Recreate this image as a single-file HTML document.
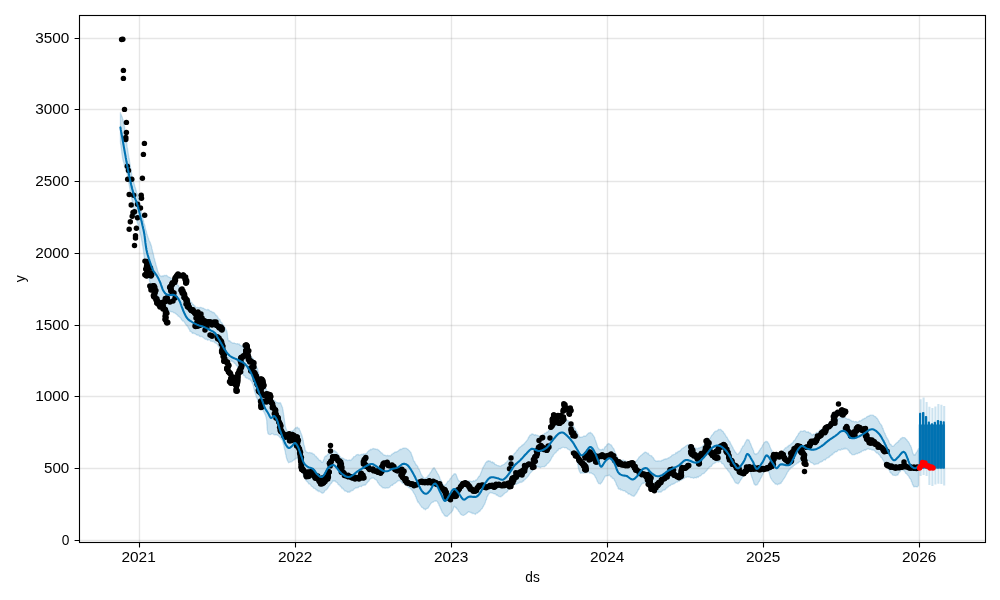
<!DOCTYPE html>
<html><head><meta charset="utf-8"><title>forecast</title>
<style>html,body{margin:0;padding:0;background:#fff;width:1000px;height:600px;overflow:hidden;font-family:"Liberation Sans",sans-serif}svg{display:block;will-change:transform}</style>
</head><body>
<svg width="1000" height="600" viewBox="0 0 1000 600">
<rect width="1000" height="600" fill="#fff"/>
<polygon points="120.4,112.7 120.6,113.9 120.8,113.9 121.1,114.7 121.4,115.1 121.7,116.0 122.1,117.1 122.4,117.8 122.7,119.3 123.0,119.4 123.2,120.9 123.4,121.7 123.5,121.8 123.7,122.4 123.8,123.0 124.0,123.7 124.1,125.3 124.3,125.9 124.5,126.1 124.6,127.7 124.8,128.9 125.0,129.8 125.1,130.1 125.2,131.2 125.3,131.8 125.4,133.2 125.5,133.2 125.6,134.6 125.7,135.3 125.8,135.7 125.9,136.0 126.0,137.6 126.1,137.6 126.2,139.0 126.3,139.3 126.4,140.2 126.5,141.4 126.7,142.0 126.8,143.8 126.9,144.2 127.0,145.5 127.1,146.4 127.2,147.0 127.3,147.7 127.5,148.3 127.6,149.5 127.7,150.2 127.8,150.4 127.9,151.7 128.1,152.4 128.2,153.3 128.4,154.4 128.5,155.3 128.6,156.0 128.8,157.2 128.9,158.1 129.1,158.1 129.2,159.0 129.4,159.8 129.5,160.8 129.6,162.6 129.8,162.6 129.9,163.6 130.1,164.4 130.2,165.3 130.3,165.8 130.4,167.1 130.6,167.3 130.7,168.6 130.8,169.2 130.9,168.8 131.0,170.1 131.2,170.8 131.4,172.8 131.5,172.6 131.6,173.6 131.7,174.8 131.8,175.2 132.0,175.9 132.1,176.2 132.3,177.1 132.5,177.6 132.7,178.6 132.9,179.1 133.1,180.4 133.3,180.5 133.5,181.3 133.8,182.2 134.0,183.5 134.3,184.4 134.5,184.6 134.8,186.6 135.1,187.2 135.3,187.5 135.5,188.1 135.8,189.6 136.0,190.6 136.2,190.4 136.5,191.9 136.7,192.7 137.0,193.6 137.2,193.4 137.4,194.0 137.6,194.8 137.9,195.6 138.1,197.1 138.3,197.9 138.5,198.2 138.8,198.6 139.0,199.8 139.2,200.4 139.3,201.5 139.4,202.3 139.6,203.1 139.7,203.4 139.9,204.1 140.0,204.9 140.1,205.6 140.3,206.4 140.4,207.5 140.6,208.3 140.7,208.7 140.9,209.8 141.0,210.1 141.2,210.9 141.4,212.2 141.6,213.0 141.8,213.5 142.0,214.5 142.2,215.6 142.4,217.0 142.5,217.6 142.7,217.5 142.9,218.6 143.1,219.5 143.4,220.3 143.6,220.9 143.8,222.4 144.0,223.5 144.3,223.9 144.5,224.5 144.7,225.3 145.0,226.0 145.2,227.8 145.4,228.0 145.6,229.4 145.9,230.3 146.1,230.3 146.3,231.2 146.5,232.1 146.7,233.4 146.9,234.0 147.1,234.1 147.3,234.9 147.6,235.9 148.0,237.1 148.3,238.3 148.6,238.5 148.9,239.9 149.2,240.8 149.5,241.1 149.7,242.2 150.0,242.8 150.3,242.5 150.5,244.2 150.8,243.9 151.0,245.4 151.3,245.4 151.5,246.4 151.7,247.4 151.9,248.7 152.1,249.4 152.3,249.6 152.5,251.3 152.7,252.1 152.9,252.5 153.1,252.8 153.3,253.9 153.5,254.8 153.7,255.7 153.9,257.2 154.1,257.6 154.3,258.7 154.5,258.6 154.7,259.6 154.9,261.0 155.1,261.4 155.3,262.1 155.5,262.8 155.7,263.6 156.0,264.9 156.2,265.8 156.5,266.5 156.7,267.6 157.0,268.2 157.2,268.7 157.5,270.5 157.8,271.0 158.1,272.0 158.4,272.7 158.7,273.4 159.0,273.8 159.3,274.8 159.7,275.3 160.0,275.5 160.7,275.9 161.4,276.6 162.2,275.8 163.0,276.5 163.9,275.5 164.8,275.4 165.7,275.6 166.3,275.2 167.0,275.6 167.7,276.7 168.4,276.8 169.2,277.1 169.9,277.3 170.7,278.2 171.4,278.4 172.1,279.3 172.8,279.8 173.5,280.5 174.1,280.8 174.7,281.3 175.2,281.7 175.8,282.5 176.4,283.2 176.9,283.9 177.4,284.9 178.0,285.7 178.5,285.4 179.0,287.0 179.5,287.5 180.0,288.1 180.5,289.1 181.0,288.7 181.5,289.8 181.9,290.3 182.3,291.5 182.8,291.2 183.2,292.2 183.7,292.4 184.2,293.8 184.8,294.2 185.5,295.3 185.9,295.3 186.4,296.5 186.8,296.1 187.3,297.0 187.9,298.3 188.4,299.2 188.9,299.7 189.5,299.9 190.1,300.3 190.6,301.8 191.2,302.5 191.8,302.4 192.3,304.1 192.9,304.3 193.4,304.3 193.9,305.4 194.5,305.7 194.9,305.8 195.4,307.2 196.3,307.8 197.1,307.2 197.9,307.7 198.6,307.6 199.3,308.0 200.0,307.3 200.8,307.5 201.6,307.7 202.5,308.0 203.2,308.1 203.9,308.5 204.7,309.2 205.4,309.4 206.2,309.7 207.0,309.9 207.9,309.4 208.7,309.8 209.5,310.4 210.2,311.0 211.0,311.3 211.7,311.4 212.4,312.6 213.1,312.3 213.7,312.4 214.4,313.0 215.0,313.8 215.6,315.0 216.1,315.7 216.7,315.4 217.2,316.3 217.8,317.0 218.3,318.3 218.9,319.2 219.5,319.2 220.0,319.6 220.4,321.3 220.9,322.0 221.4,322.4 221.9,322.8 222.4,323.8 222.9,324.6 223.3,325.0 223.8,325.5 224.3,326.5 224.7,327.4 225.2,327.8 225.6,328.9 225.9,329.0 226.3,330.7 226.6,330.5 226.9,331.4 227.2,333.1 227.3,334.0 227.4,334.9 227.5,335.7 227.5,336.6 227.6,337.4 227.7,337.9 227.9,338.1 228.1,339.7 228.5,340.5 229.0,341.1 229.5,340.6 230.1,341.0 230.8,342.2 231.5,342.2 232.3,342.9 233.2,343.3 234.0,342.9 234.9,343.3 235.8,343.6 236.7,343.8 237.5,343.6 238.3,344.2 239.1,343.8 239.8,345.1 240.5,345.3 241.3,345.9 242.0,346.0 242.6,346.2 243.3,347.1 243.9,347.9 244.4,348.4 245.0,348.5 245.5,349.0 246.0,350.1 246.6,350.5 247.1,351.1 247.6,351.7 248.2,352.5 248.7,353.5 249.2,354.3 249.7,354.6 250.2,354.4 250.7,356.1 251.2,356.4 251.6,357.2 252.1,357.7 252.5,358.1 253.0,358.8 253.4,359.2 253.8,360.6 254.1,360.6 254.5,362.1 254.9,363.2 255.3,363.7 255.6,364.4 256.0,365.5 256.3,366.5 256.6,367.1 256.9,368.1 257.2,368.2 257.5,368.4 257.8,370.0 258.0,370.8 258.2,371.8 258.4,372.2 258.6,372.6 258.7,372.9 258.9,374.6 259.1,375.2 259.4,376.4 259.6,376.7 260.0,377.9 260.3,378.5 260.6,379.4 260.9,379.5 261.3,380.7 261.6,380.8 262.0,381.1 262.4,382.2 262.8,383.0 263.2,384.5 263.6,384.6 264.0,385.2 264.4,386.4 264.8,386.4 265.2,387.4 265.6,388.2 266.0,388.5 266.4,389.9 266.8,390.4 267.3,391.7 267.7,391.9 268.1,393.4 268.5,393.3 268.9,394.4 269.3,394.8 269.7,395.2 270.1,396.2 270.5,397.6 270.9,397.4 271.3,398.2 271.7,398.7 272.4,399.2 273.1,400.1 273.8,400.0 274.4,400.7 275.1,400.9 275.8,401.9 276.5,402.3 277.2,402.6 277.9,402.6 278.6,403.1 279.3,403.1 280.0,402.5 280.7,403.2 281.4,404.9 282.0,406.4 282.2,407.1 282.3,407.4 282.5,407.3 282.6,408.4 282.8,409.2 282.9,410.0 283.1,410.2 283.2,412.1 283.3,412.4 283.5,413.0 283.6,414.8 283.7,415.0 283.9,415.6 284.0,417.3 284.1,417.8 284.2,418.7 284.4,419.7 284.5,421.0 284.6,421.6 284.8,422.9 284.9,424.1 285.0,425.0 285.2,425.7 285.3,426.5 285.4,426.4 285.6,427.8 285.7,427.5 285.9,428.6 286.0,428.5 286.7,430.2 287.4,432.2 288.2,431.7 288.9,432.4 289.8,432.0 290.7,431.2 291.3,432.0 292.0,430.7 292.7,431.1 293.5,430.4 294.2,429.3 295.0,428.6 295.7,427.6 296.4,428.0 297.1,427.0 297.7,427.6 298.2,428.4 298.7,428.5 299.1,428.3 299.5,429.7 299.9,430.4 300.2,430.8 300.6,432.2 300.9,432.9 301.3,433.8 301.6,434.9 302.0,435.7 302.2,436.4 302.4,437.8 302.6,437.9 302.8,439.2 303.0,439.6 303.2,440.3 303.3,440.9 303.5,443.0 303.7,443.7 303.9,444.9 304.1,445.3 304.3,445.6 304.5,446.6 304.7,447.3 304.9,448.8 305.1,449.5 305.3,450.6 305.5,450.4 305.8,450.9 306.0,451.4 306.7,452.2 307.5,452.3 308.2,452.9 309.1,452.6 310.0,452.4 310.9,453.1 312.0,452.8 312.5,453.8 313.1,453.9 313.7,453.9 314.3,454.4 315.0,455.7 315.7,456.7 316.4,456.4 317.1,457.9 317.8,458.0 318.4,459.2 319.1,460.0 319.7,460.5 320.3,460.4 320.9,460.7 321.4,462.0 321.8,462.1 322.6,462.1 323.1,461.3 323.5,460.0 323.8,459.5 324.1,459.2 324.5,457.2 325.0,456.8 325.6,455.9 326.3,456.3 327.0,455.1 327.8,454.2 328.6,453.9 329.3,453.2 330.0,453.0 330.7,452.8 331.6,452.3 332.5,451.0 333.3,451.0 334.1,450.3 335.0,450.9 335.5,451.7 336.0,451.5 336.5,452.7 337.0,452.7 337.5,453.5 338.1,454.8 338.7,454.5 339.3,455.9 339.9,456.5 340.6,457.3 341.3,458.0 342.0,458.1 342.7,458.0 343.5,458.5 344.3,459.2 345.1,459.4 345.9,460.0 346.7,459.7 347.5,460.6 348.3,460.4 349.0,460.0 349.7,459.9 350.5,460.5 351.1,459.9 351.8,459.4 352.5,458.2 353.1,458.2 353.8,456.6 354.5,456.7 355.2,456.4 356.0,455.2 356.7,454.7 357.5,454.6 358.3,454.4 359.1,455.2 359.9,454.9 360.7,454.7 361.5,454.2 362.3,454.8 363.1,454.0 363.9,453.8 364.7,454.1 365.4,453.8 366.1,453.6 366.9,453.1 367.6,451.7 368.3,451.3 369.0,450.5 369.7,450.4 370.4,449.3 371.1,449.8 371.8,449.2 372.4,449.0 373.0,448.4 374.0,448.8 374.9,448.8 375.7,449.1 376.6,449.5 377.3,449.2 378.1,449.9 378.8,450.0 379.6,451.3 380.3,451.6 381.0,452.9 381.7,452.7 382.3,453.4 383.0,454.4 383.9,455.0 384.8,455.1 385.7,455.6 386.5,455.8 387.3,455.2 388.2,455.9 388.8,455.4 390.0,455.8 390.5,455.9 391.1,455.0 391.8,454.2 392.5,454.2 393.2,453.1 394.0,453.1 394.8,452.1 395.5,452.0 396.3,452.1 397.0,451.6 397.8,451.3 398.6,450.4 399.4,450.0 400.2,449.1 401.0,449.6 401.7,449.0 402.5,448.6 403.3,448.1 404.0,448.5 404.8,448.0 405.6,448.2 406.4,448.3 407.2,449.0 407.9,449.1 408.7,450.4 409.4,450.7 410.0,451.7 410.4,451.9 410.7,452.0 411.1,452.9 411.4,454.3 411.7,454.8 412.0,455.6 412.2,456.5 412.5,456.6 412.8,457.6 413.1,458.7 413.4,460.0 413.7,460.9 414.0,461.1 414.4,461.5 414.8,462.0 415.2,463.3 415.6,463.7 416.0,465.0 416.5,464.8 416.9,465.4 417.3,465.9 417.8,466.6 418.3,468.4 418.7,469.1 419.0,469.0 419.4,469.6 419.8,471.1 420.2,471.6 420.6,472.9 421.1,474.2 421.5,474.8 421.9,475.1 422.3,476.2 422.8,476.5 423.2,477.6 423.6,477.4 424.0,478.4 424.7,478.4 425.5,478.5 426.2,477.4 426.9,477.5 427.7,476.4 428.4,475.2 429.1,474.9 429.7,473.8 430.2,472.9 430.8,472.0 431.2,471.8 431.7,470.5 432.2,469.5 432.6,469.5 433.1,468.1 433.5,468.5 434.0,467.7 434.4,467.9 434.9,468.9 435.3,469.3 435.7,470.0 436.1,470.9 436.5,471.3 437.0,472.6 437.5,473.2 438.0,474.1 438.3,474.4 438.7,475.2 439.0,476.2 439.4,476.7 439.8,478.1 440.2,479.3 440.6,480.0 441.0,480.3 441.4,481.0 441.8,482.2 442.2,483.0 442.6,484.2 443.0,484.4 443.4,484.8 443.8,485.1 444.4,485.2 445.1,485.1 445.7,484.5 446.4,483.8 447.0,482.7 447.6,481.6 448.2,481.1 448.9,480.9 449.5,480.2 450.1,478.8 450.8,478.3 451.4,477.4 452.0,476.4 452.7,475.3 453.3,475.3 453.9,473.9 454.4,473.8 455.0,473.7 455.5,473.9 455.9,474.3 456.3,474.9 456.6,476.2 457.0,476.8 457.4,478.3 457.8,479.1 458.2,480.0 458.7,480.5 459.2,481.1 459.9,481.1 460.8,481.4 461.7,481.7 462.6,481.1 463.5,481.6 464.5,481.3 465.4,481.6 466.3,481.1 467.2,481.1 468.1,481.4 469.0,480.9 469.9,481.1 470.8,481.2 471.7,481.6 472.6,481.5 473.4,480.6 474.2,481.3 474.9,481.0 475.7,480.0 476.4,480.1 477.1,479.1 477.7,478.2 478.4,477.1 479.0,476.2 479.4,476.3 479.7,475.8 480.1,475.0 480.4,474.4 480.7,473.2 481.1,472.7 481.4,471.7 481.7,470.9 482.0,470.0 482.3,469.3 482.7,468.4 483.0,467.1 483.3,467.2 483.8,466.4 484.2,465.2 484.7,465.1 485.1,463.7 485.6,462.7 486.1,462.5 486.6,461.8 487.1,461.1 487.6,461.7 488.3,460.6 489.1,461.3 489.9,460.8 490.7,461.6 491.5,462.5 492.4,461.8 493.2,463.1 493.9,462.5 494.7,464.1 495.4,464.6 496.2,464.6 496.9,465.3 497.7,465.6 498.4,465.6 499.0,466.0 499.9,466.2 500.7,466.5 501.5,465.3 502.2,465.3 503.0,464.8 503.6,464.5 504.2,464.3 504.9,463.6 505.5,462.7 506.1,462.9 506.8,461.9 507.4,460.9 508.0,460.7 508.6,460.6 509.1,459.1 509.7,459.3 510.3,458.5 510.9,457.6 511.7,456.6 512.2,456.2 512.6,455.8 513.1,455.2 513.7,454.7 514.2,453.6 514.8,453.3 515.4,452.5 515.9,452.1 516.5,451.4 517.1,450.0 517.6,450.3 518.2,449.1 518.7,448.3 519.4,447.5 520.0,447.5 520.6,446.6 521.3,446.4 521.9,445.3 522.5,445.6 523.1,444.3 523.8,444.5 524.4,443.4 525.0,442.7 525.5,442.3 526.0,441.5 526.6,440.8 527.1,440.0 527.6,439.7 528.1,438.6 528.6,437.0 529.1,437.4 529.7,435.5 530.2,435.0 530.7,435.4 531.3,434.4 532.1,433.9 532.8,434.0 533.6,434.6 534.4,435.3 535.2,434.6 536.0,435.1 536.8,435.2 537.6,435.4 538.4,435.8 539.2,435.9 540.0,436.3 540.8,435.7 541.6,435.6 542.3,435.0 543.1,435.0 543.9,434.3 544.7,433.3 545.5,433.0 546.1,432.8 546.8,431.9 547.4,432.3 548.1,431.3 548.7,430.4 549.4,430.2 550.0,430.0 550.7,428.8 551.3,428.7 552.0,427.6 552.6,427.3 553.3,426.7 554.0,426.6 554.7,426.4 555.4,425.4 556.2,425.5 556.9,425.0 557.6,424.7 558.3,424.6 559.0,423.5 559.7,423.9 560.5,422.8 561.3,422.5 562.1,421.6 562.9,421.1 563.7,421.4 564.5,420.4 565.2,420.1 566.0,420.0 566.7,420.6 567.5,420.3 568.2,420.7 569.0,421.8 569.7,421.9 570.4,422.2 571.1,423.5 571.8,424.6 572.4,424.8 572.9,425.2 573.4,426.0 573.8,426.9 574.3,427.8 574.7,428.5 575.1,428.7 575.5,430.1 575.9,430.0 576.3,430.7 576.7,431.8 577.2,432.3 577.6,433.7 578.1,434.2 578.5,435.9 578.9,436.0 579.4,437.0 580.0,437.5 580.7,437.1 581.5,437.4 582.3,436.9 583.2,436.5 584.1,435.9 584.9,436.1 585.7,436.1 586.5,435.3 587.2,434.3 587.9,433.8 588.6,433.0 589.3,432.7 590.0,433.0 590.6,432.3 591.2,433.2 591.8,433.7 592.4,433.9 593.0,435.3 593.6,435.7 594.2,436.9 594.5,437.3 594.8,438.3 595.0,438.9 595.3,440.0 595.6,440.5 595.9,441.8 596.2,442.4 596.4,442.8 596.7,444.1 597.0,444.7 597.3,445.6 597.6,447.1 597.8,447.2 598.1,448.1 598.4,447.9 599.2,449.5 600.1,449.5 600.9,449.8 601.8,449.6 602.7,449.1 603.3,449.8 603.9,449.3 604.5,447.8 605.2,446.6 605.8,446.6 606.5,445.7 607.1,444.3 607.7,444.6 608.3,443.5 609.1,443.6 609.8,444.4 610.5,444.8 611.1,444.8 611.8,445.9 612.6,447.4 612.9,447.7 613.3,448.2 613.6,448.5 614.0,449.1 614.3,450.1 614.7,451.3 615.0,452.3 615.4,453.0 615.8,454.1 616.2,454.9 616.6,455.8 617.0,456.3 617.4,457.5 617.8,457.7 618.2,458.7 618.9,459.5 619.7,459.8 620.4,460.1 621.2,460.3 622.0,460.4 622.8,460.2 623.6,460.1 624.4,461.0 625.3,460.7 626.1,461.4 627.0,461.6 627.8,461.9 628.7,462.0 629.6,462.0 630.5,462.2 631.4,462.9 632.3,463.1 633.1,462.4 633.8,462.3 634.5,462.2 635.1,461.7 635.7,461.4 636.3,461.0 636.8,460.3 637.4,459.7 637.9,458.9 638.4,458.5 638.9,457.3 639.5,456.7 640.2,456.3 640.9,455.3 641.6,455.2 642.4,454.1 643.1,453.7 643.8,453.1 644.5,452.6 645.2,452.0 646.0,452.3 646.8,452.8 647.6,453.7 648.3,453.2 649.1,454.7 649.9,455.4 650.7,455.7 651.3,455.7 651.9,456.0 652.6,457.7 653.2,457.5 653.8,458.5 654.4,460.0 655.0,460.3 655.7,461.0 656.3,461.4 657.1,460.9 657.9,461.3 658.7,460.8 659.6,460.9 660.4,460.9 661.2,461.0 662.0,460.1 662.8,460.4 663.6,459.5 664.4,459.3 665.3,458.8 666.1,459.1 666.9,458.7 667.7,458.5 668.4,457.7 669.1,457.9 669.8,457.2 670.5,456.6 671.2,456.5 671.9,455.2 672.6,454.9 673.3,454.8 674.0,454.4 674.7,454.4 675.4,453.6 676.1,452.4 676.9,453.1 677.6,452.1 678.3,451.3 679.0,451.5 679.7,450.8 680.4,450.6 681.1,449.6 681.9,448.7 682.6,448.4 683.3,447.9 684.0,447.3 684.7,447.1 685.5,446.1 686.3,445.8 687.1,445.2 687.9,444.7 688.7,445.0 689.5,445.1 690.3,444.7 691.0,445.5 691.7,445.5 692.4,446.1 693.1,446.2 693.9,447.6 694.6,447.4 695.3,448.5 696.0,448.0 696.8,448.9 697.6,448.6 698.4,447.9 699.3,448.4 700.1,447.4 700.9,447.3 701.7,446.9 702.3,446.4 702.8,446.0 703.4,445.2 703.9,444.9 704.5,444.0 705.1,444.2 705.6,443.0 706.2,442.8 706.7,441.8 707.3,441.8 707.8,441.0 708.4,440.2 708.9,439.7 709.5,439.1 710.1,438.4 710.6,437.1 711.1,436.6 711.7,435.3 712.1,435.1 712.6,434.5 713.0,434.3 713.8,432.6 714.4,432.7 714.9,431.3 715.7,431.2 716.3,430.9 717.0,430.9 717.8,430.2 718.6,429.3 719.5,429.7 720.4,429.3 721.3,430.1 721.7,430.2 722.2,431.3 722.6,431.1 723.0,431.4 723.5,432.1 724.0,433.5 724.4,433.4 724.9,434.0 725.4,435.1 725.9,436.0 726.4,437.1 726.9,436.9 727.4,438.0 727.9,439.3 728.4,439.8 728.8,440.7 729.2,441.3 729.6,441.4 730.1,442.2 730.5,443.2 731.0,444.2 731.4,444.9 731.9,445.9 732.3,446.6 732.8,447.4 733.3,448.8 733.7,449.9 734.2,450.0 734.6,450.7 735.0,452.1 735.4,451.9 735.9,452.5 736.3,453.4 736.6,453.5 737.0,454.3 737.6,454.2 738.2,454.0 738.7,453.5 739.3,452.5 739.7,452.6 740.2,451.3 740.7,450.8 741.2,449.0 741.6,448.5 742.1,447.8 742.6,446.6 743.1,445.8 743.6,445.9 744.1,445.0 744.6,444.1 745.1,442.6 745.6,441.9 746.1,441.0 746.6,440.2 747.1,439.4 747.6,439.8 748.2,439.7 748.5,440.3 748.9,439.9 749.3,440.8 749.6,441.3 750.0,442.8 750.4,443.4 750.8,444.1 751.2,445.6 751.5,446.3 751.9,447.1 752.3,448.2 752.7,448.7 753.1,449.7 753.5,450.6 753.9,452.5 754.2,453.1 754.6,453.3 755.0,454.2 755.3,454.0 755.9,454.5 756.5,453.7 757.1,453.7 757.7,453.4 758.2,452.4 758.8,451.8 759.3,450.6 759.9,450.0 760.4,448.7 761.0,448.3 761.5,447.5 762.0,446.9 762.5,445.4 763.0,444.7 763.5,444.3 764.0,442.8 764.5,442.3 765.1,442.3 765.6,441.4 766.1,441.4 766.7,441.5 767.1,442.0 767.4,441.7 767.8,442.2 768.2,443.2 768.6,443.1 769.0,444.4 769.4,445.0 769.8,446.2 770.2,447.3 770.6,448.4 771.0,448.9 771.4,450.1 771.8,450.2 772.2,451.7 772.6,452.8 772.9,453.1 773.3,453.5 773.7,454.0 774.5,454.7 775.4,455.0 776.2,455.3 777.0,456.3 777.8,456.0 778.5,455.3 779.3,455.8 780.0,455.8 780.5,455.2 781.0,454.2 781.5,454.6 781.9,453.0 782.4,452.6 782.8,451.8 783.3,450.7 783.8,450.0 784.4,449.1 785.0,448.4 785.5,447.7 786.1,447.9 786.7,447.5 787.4,446.4 788.0,446.8 788.7,445.6 789.4,445.1 790.1,445.2 790.8,444.3 791.5,443.5 792.1,443.2 792.8,442.6 793.4,441.5 793.9,440.6 794.4,440.7 794.9,440.0 795.4,439.1 795.9,437.8 796.3,437.8 796.8,436.3 797.3,436.3 797.7,435.3 798.2,434.6 798.6,433.3 799.1,433.0 799.6,432.9 800.0,431.7 800.5,431.2 801.4,431.2 802.3,431.5 803.2,431.1 804.1,430.7 805.0,430.7 805.9,431.8 806.8,432.0 807.6,432.0 808.5,431.8 809.2,433.0 810.0,432.7 810.7,433.5 811.4,434.2 812.3,435.3 813.2,434.1 813.8,434.1 814.5,434.5 815.2,434.2 815.9,433.2 816.6,432.4 817.4,432.8 818.1,432.4 818.9,431.7 819.6,430.7 820.3,429.6 821.0,429.8 821.7,429.2 822.4,428.9 823.1,428.3 823.7,427.4 824.3,427.4 824.9,426.3 825.6,425.7 826.2,425.4 826.8,425.1 827.4,424.4 828.1,424.3 828.8,423.0 829.5,423.3 830.3,422.8 831.0,421.8 831.8,420.9 832.6,421.2 833.4,420.8 834.2,420.8 835.0,420.0 835.8,419.8 836.6,419.6 837.3,418.6 838.2,418.9 839.0,418.3 839.9,417.8 840.7,417.6 841.5,417.6 842.4,417.9 843.2,417.6 844.1,417.4 845.0,417.2 845.7,418.2 846.5,418.5 847.2,418.9 848.0,419.3 848.8,418.9 849.6,419.6 850.4,420.3 851.2,420.5 852.0,421.6 852.8,421.2 853.5,421.2 854.2,421.9 855.2,421.6 856.1,421.5 857.0,422.1 857.8,421.9 858.7,421.6 859.5,420.7 860.3,420.9 861.2,420.5 861.9,419.9 862.6,419.4 863.4,418.9 864.1,418.8 864.8,418.1 865.6,417.9 866.3,417.5 867.0,416.6 867.6,416.6 868.3,415.9 869.2,416.1 870.0,415.1 870.8,415.2 871.5,415.2 872.3,415.2 873.1,415.1 874.0,416.0 874.5,416.4 874.9,416.6 875.4,416.6 875.9,417.0 876.5,418.1 877.0,418.1 877.5,418.9 878.0,419.5 878.5,420.9 879.1,421.4 879.6,422.8 880.1,423.5 880.5,423.9 881.0,424.5 881.4,425.2 881.7,425.5 882.1,426.3 882.4,428.0 882.8,428.1 883.1,428.5 883.4,430.5 883.8,430.6 884.1,431.9 884.4,432.3 884.7,433.7 885.1,433.4 885.4,434.7 885.7,435.6 886.0,435.6 886.4,437.4 886.7,437.3 887.2,438.6 887.7,438.8 888.1,439.7 888.6,440.6 889.1,442.3 889.6,443.3 890.0,444.1 890.5,444.3 891.0,444.4 891.5,445.7 891.9,445.8 892.4,446.3 893.1,446.2 893.8,445.9 894.5,444.9 895.2,444.2 895.9,443.4 896.6,443.0 897.3,442.1 898.0,442.2 898.7,440.6 899.4,440.7 900.1,439.2 900.8,438.4 901.5,438.8 902.2,437.4 903.0,437.6 903.7,437.6 904.3,437.6 904.8,437.9 905.4,438.1 906.0,439.3 906.7,439.6 907.3,440.6 907.9,441.7 908.4,441.6 909.0,442.9 909.5,443.6 910.0,445.1 910.4,445.5 910.7,445.8 911.1,447.1 911.4,447.5 911.7,449.1 912.0,449.6 912.3,450.7 912.5,452.1 912.8,452.9 913.1,453.3 913.4,454.4 913.7,454.5 914.0,455.2 914.5,454.5 915.1,455.1 915.6,453.9 916.2,452.7 916.8,451.9 917.3,451.3 917.8,449.8 918.2,450.0 918.5,448.7 918.5,485.6 917.9,486.2 917.0,487.0 916.0,486.7 914.9,486.4 914.0,486.9 913.6,486.6 913.3,485.2 913.0,485.1 912.7,484.9 912.4,484.0 912.0,482.5 911.7,481.7 911.3,481.4 910.9,479.7 910.5,479.1 910.0,478.4 909.6,478.2 909.1,477.1 908.6,476.1 908.0,475.5 907.4,474.8 906.8,474.0 906.2,473.4 905.6,473.3 905.0,471.8 904.5,471.2 903.9,470.4 903.3,470.6 902.8,469.6 902.3,470.0 901.6,470.0 900.9,470.1 900.3,471.7 899.7,471.8 899.1,472.6 898.5,473.4 897.9,475.1 897.3,475.0 896.7,475.1 895.9,475.7 895.0,475.2 894.2,475.4 893.4,475.2 892.5,474.9 891.7,473.4 891.0,473.2 890.5,472.5 890.1,472.5 889.7,470.9 889.2,470.2 888.9,470.0 888.5,469.2 888.0,467.7 887.6,467.1 887.2,466.3 886.7,465.8 886.3,464.6 885.8,464.6 885.4,464.2 884.9,463.5 884.4,462.3 883.9,461.6 883.4,460.3 882.9,460.0 882.5,459.2 882.0,458.2 881.5,457.4 881.0,457.5 880.4,456.5 879.8,455.5 879.2,454.7 878.6,454.4 878.0,453.4 877.4,453.0 876.7,453.1 876.1,452.4 875.4,451.7 874.7,450.8 873.9,450.2 873.1,450.0 872.3,450.1 871.5,449.6 870.7,449.2 869.9,449.4 869.1,449.2 868.3,448.5 867.5,449.1 866.7,449.2 866.0,449.9 865.2,450.3 864.5,449.8 863.7,450.7 862.9,450.8 862.1,450.9 861.2,452.0 860.5,451.9 859.7,452.9 858.9,452.7 858.1,453.2 857.3,453.8 856.5,453.4 855.7,454.1 854.9,454.4 854.2,454.8 853.4,454.6 852.7,454.6 852.0,454.8 851.4,453.7 850.8,453.5 850.2,452.3 849.6,452.6 849.0,450.7 848.4,450.6 847.8,449.6 847.1,449.1 846.4,448.8 845.7,448.2 845.0,449.2 844.2,448.3 843.4,449.2 842.6,449.5 841.7,449.0 840.9,450.0 840.0,450.3 839.1,449.7 838.3,450.0 837.5,451.1 836.7,451.7 836.0,451.9 835.3,451.5 834.5,452.9 833.9,452.6 833.2,453.6 832.6,454.7 831.9,454.3 831.3,455.3 830.7,455.8 830.1,455.7 829.4,457.2 828.8,457.0 828.1,457.9 827.4,458.1 826.7,458.2 825.9,459.2 825.2,460.1 824.5,459.5 823.8,460.0 823.1,460.5 822.4,461.4 821.7,461.3 820.9,462.2 820.2,462.0 819.4,462.5 818.7,463.4 817.9,463.8 817.1,463.8 816.4,464.1 815.5,464.2 814.7,464.6 814.0,464.5 813.2,463.5 812.5,463.2 811.7,462.7 810.9,462.7 810.1,461.6 809.4,461.2 808.6,460.5 807.8,460.6 807.0,460.3 806.2,460.8 805.4,460.0 804.7,459.8 803.9,460.4 803.1,460.1 802.3,460.7 801.6,460.6 800.8,461.7 800.0,461.4 799.2,461.7 798.5,462.8 797.7,462.6 797.0,463.6 796.4,464.0 795.8,464.3 795.1,464.5 794.5,465.4 793.8,465.3 793.2,466.5 792.5,466.3 791.9,467.7 791.2,467.6 790.5,468.1 789.9,469.5 789.2,469.4 788.8,470.5 788.3,471.6 787.8,471.5 787.4,472.2 786.9,473.7 786.4,474.4 786.0,475.3 785.5,476.3 785.0,477.2 784.5,477.9 784.1,478.5 783.6,479.2 783.1,479.8 782.7,480.6 782.2,481.4 781.8,481.7 781.3,482.5 780.9,483.5 780.4,483.4 780.0,483.1 779.2,484.1 778.3,484.0 777.5,484.8 776.7,484.3 775.9,483.8 775.2,484.0 774.4,482.6 773.7,482.2 773.0,481.4 772.3,480.6 771.9,480.0 771.5,479.3 771.2,478.5 770.8,478.2 770.5,477.7 770.2,476.6 769.8,475.5 769.5,474.0 769.2,473.1 768.9,472.0 768.6,471.5 768.3,470.1 768.0,470.3 767.7,468.7 767.4,468.9 767.0,468.8 766.7,468.1 766.3,467.7 765.9,468.3 765.5,469.1 765.1,469.5 764.7,470.2 764.3,471.3 763.9,472.4 763.4,472.9 763.0,474.3 762.6,475.0 762.2,475.3 761.8,476.5 761.4,477.2 761.0,477.9 760.5,478.5 760.0,479.9 759.5,481.3 759.0,481.4 758.5,482.3 758.0,483.6 757.5,484.3 757.0,484.9 756.4,484.9 755.9,485.3 755.3,485.0 755.0,484.4 754.7,484.6 754.4,484.3 754.1,483.9 753.8,483.1 753.5,481.4 753.2,480.9 752.9,480.1 752.6,479.4 752.2,477.7 751.9,477.5 751.6,476.5 751.3,475.2 750.9,474.2 750.6,473.2 750.3,472.1 750.0,472.0 749.7,470.6 749.4,470.5 749.1,469.3 748.8,469.3 748.5,468.5 748.2,468.6 747.7,468.3 747.2,468.7 746.7,468.4 746.2,469.5 745.8,470.0 745.3,471.2 744.9,472.3 744.4,473.2 744.0,473.7 743.5,474.8 743.1,476.6 742.6,476.6 742.1,477.8 741.6,478.9 741.2,479.2 740.7,479.9 740.2,480.9 739.7,481.5 739.3,482.7 738.7,482.7 738.2,483.9 737.6,483.5 737.0,483.5 736.6,483.3 736.2,482.8 735.8,482.4 735.4,482.8 734.9,482.0 734.5,481.3 734.0,480.1 733.5,479.3 733.0,478.2 732.6,477.8 732.1,477.3 731.6,475.8 731.1,475.8 730.6,474.3 730.2,473.9 729.7,472.4 729.3,472.1 728.8,471.9 728.4,470.6 727.8,470.7 727.2,468.9 726.6,468.8 726.1,468.2 725.5,467.6 724.9,466.8 724.4,466.1 723.9,464.8 723.3,464.1 722.8,463.7 722.3,463.7 721.8,463.4 721.3,462.1 720.3,461.6 719.3,461.5 718.4,462.1 717.5,461.7 716.6,461.6 715.7,462.6 715.1,462.8 714.4,463.2 713.8,463.6 713.2,463.6 712.5,464.4 711.9,465.4 711.3,466.4 710.6,466.3 710.0,467.0 709.4,467.0 708.8,468.6 708.2,468.3 707.6,469.0 706.9,470.5 706.3,470.9 705.7,471.5 705.1,472.1 704.5,473.0 703.8,473.5 703.1,473.5 702.4,473.8 701.7,474.6 701.0,475.4 700.2,476.1 699.5,476.1 698.8,476.5 698.0,477.5 697.1,476.8 696.3,478.0 695.5,477.7 694.6,477.5 693.8,478.3 693.0,478.0 692.2,477.5 691.4,477.7 690.6,477.7 689.9,477.1 689.1,477.1 688.3,477.0 687.5,476.6 686.7,477.3 685.9,477.4 685.1,477.1 684.2,478.4 683.4,478.5 682.6,479.3 681.8,479.8 681.0,480.3 680.2,479.8 679.4,481.3 678.6,480.9 677.8,481.7 677.0,482.2 676.2,482.1 675.4,482.7 674.6,483.5 673.8,483.4 672.9,484.4 672.1,484.2 671.3,484.4 670.5,485.7 669.8,485.6 669.1,485.9 668.4,486.8 667.6,487.1 666.9,488.2 666.2,488.1 665.5,489.5 664.8,489.7 664.0,490.2 663.2,490.1 662.5,490.6 661.7,491.5 660.9,492.2 660.1,491.9 659.2,492.0 658.6,492.4 658.0,491.2 657.3,491.8 656.6,490.2 655.9,490.6 655.2,489.4 654.6,488.8 653.9,487.7 653.2,487.3 652.6,486.5 652.0,486.1 651.2,485.8 650.5,485.0 649.9,484.9 649.2,483.8 648.6,483.5 647.9,482.6 647.3,482.5 646.6,482.2 645.8,482.6 645.0,482.7 644.2,482.8 643.4,483.5 642.6,483.2 641.8,484.0 641.0,485.2 640.6,485.7 640.2,486.5 639.7,486.6 639.3,488.0 638.9,489.2 638.4,490.0 638.0,489.8 637.6,491.3 637.2,491.8 636.7,493.2 636.3,493.0 635.9,494.0 635.6,494.6 635.2,494.6 634.3,496.1 633.5,496.3 632.8,495.6 632.0,495.8 631.0,494.8 630.4,494.9 629.8,494.0 629.1,493.9 628.3,494.1 627.6,492.9 626.8,492.1 626.1,492.4 625.4,491.3 624.7,490.7 624.0,490.9 623.2,490.7 622.4,490.3 621.7,489.6 620.9,490.2 620.2,488.8 619.5,489.3 618.8,489.1 618.2,488.5 617.8,486.8 617.4,486.6 617.0,485.4 616.7,485.2 616.3,484.7 616.0,483.0 615.7,482.6 615.3,481.1 614.9,481.1 614.5,480.4 614.0,479.2 613.4,478.4 612.8,478.5 612.1,478.0 611.4,476.4 610.7,476.8 609.9,475.6 609.2,474.9 608.5,475.5 607.7,475.7 607.0,475.5 606.4,475.9 605.9,476.2 605.3,476.0 604.7,477.3 604.2,478.0 603.6,479.4 603.0,480.2 602.5,481.2 601.9,482.3 601.4,482.7 600.8,483.3 600.3,484.1 599.8,483.6 599.3,483.5 598.8,483.7 598.3,483.1 597.8,481.9 597.4,481.5 596.9,480.2 596.5,479.3 596.0,477.9 595.6,477.7 595.1,476.7 594.7,475.8 594.2,474.9 593.4,474.5 592.7,473.7 591.9,473.6 591.1,472.8 590.3,473.1 589.5,473.1 588.5,471.9 587.7,471.8 586.9,472.9 586.0,472.3 585.1,473.1 584.1,472.7 583.2,473.2 582.3,472.9 581.4,472.9 580.7,473.4 580.0,471.9 579.6,472.1 579.3,470.8 579.0,470.5 578.8,469.4 578.6,468.8 578.4,468.2 578.3,467.0 578.1,466.3 577.9,465.2 577.8,464.5 577.6,463.6 577.4,463.1 577.2,461.7 577.0,461.0 576.7,460.3 576.3,459.8 575.9,458.2 575.4,458.1 575.0,456.9 574.5,456.7 574.0,455.2 573.5,454.9 573.0,454.0 572.5,453.5 572.0,452.3 571.5,452.4 571.0,452.3 570.3,450.7 569.6,450.0 568.9,449.5 568.1,449.3 567.4,448.9 566.7,447.9 566.0,447.9 565.3,447.5 564.5,447.8 563.7,447.3 562.9,447.3 562.1,447.6 561.3,448.0 560.5,448.8 559.7,448.9 559.1,448.6 558.6,449.1 558.0,450.6 557.4,450.9 556.9,450.8 556.3,452.0 555.7,452.8 555.1,452.8 554.6,453.6 554.0,454.3 553.5,454.5 553.0,456.3 552.6,456.6 552.1,456.9 551.6,458.2 551.1,459.1 550.7,459.8 550.2,460.9 549.7,460.9 549.2,462.1 548.8,462.5 548.3,463.1 547.6,463.4 546.9,464.1 546.2,465.5 545.6,465.5 544.9,466.4 544.2,466.8 543.5,466.6 542.7,466.7 541.9,466.8 541.1,467.1 540.2,467.8 539.3,466.9 538.4,467.0 537.6,466.9 536.8,466.2 536.0,467.2 535.4,466.8 534.8,467.8 534.2,468.1 533.7,468.7 533.2,470.2 532.7,470.6 532.1,471.1 531.6,471.7 531.0,472.3 530.5,472.8 530.0,473.4 529.4,474.2 528.8,475.4 528.3,476.2 527.7,476.5 527.2,477.4 526.6,477.9 526.0,478.6 525.5,479.0 525.0,479.7 524.3,479.8 523.6,481.2 522.9,480.9 522.2,482.0 521.5,482.2 520.8,482.6 520.0,482.0 519.3,482.8 518.6,483.3 517.8,483.2 516.9,483.9 516.1,484.3 515.3,484.1 514.5,484.9 513.7,485.1 513.0,485.2 512.3,485.3 511.7,486.8 511.1,487.0 510.5,488.2 509.9,488.2 509.3,489.2 508.7,489.6 508.1,489.9 507.4,491.5 506.8,492.0 506.2,492.4 505.5,492.8 504.9,493.0 504.2,494.0 503.5,494.2 502.8,495.4 502.2,495.8 501.5,496.0 500.9,496.9 500.3,496.4 499.4,496.6 498.6,496.3 497.8,495.7 497.0,494.8 496.3,495.2 495.5,493.8 494.7,493.7 493.9,493.8 493.1,493.3 492.3,493.0 491.4,492.8 490.6,492.4 489.8,493.1 489.0,493.8 488.7,494.0 488.3,494.6 488.0,495.4 487.7,495.9 487.4,496.5 487.0,497.0 486.7,498.3 486.4,499.9 486.1,499.9 485.7,500.5 485.4,502.4 485.1,502.8 484.7,504.3 484.4,504.3 484.0,505.3 483.7,505.5 483.3,506.8 482.8,506.9 482.2,508.7 481.6,508.7 481.0,509.8 480.4,510.3 479.8,511.5 479.2,511.2 478.6,512.0 478.0,512.5 477.4,513.2 476.8,513.1 476.2,513.3 475.4,514.5 474.6,513.8 473.8,513.7 473.0,513.1 472.2,513.6 471.4,512.4 470.6,512.6 469.8,512.2 469.0,511.7 468.2,511.9 467.4,512.9 466.7,513.2 465.9,514.2 465.1,514.5 464.3,515.0 463.6,515.4 462.8,515.3 462.0,515.0 461.4,514.7 460.9,514.2 460.3,513.7 459.7,512.4 459.1,511.8 458.5,511.3 457.9,509.8 457.4,509.1 456.8,509.1 456.3,507.4 455.8,507.8 455.4,507.4 455.0,506.9 454.3,506.2 453.9,507.2 453.6,507.7 453.3,508.7 452.9,510.2 452.3,511.0 451.8,511.6 451.2,512.6 450.6,513.0 449.9,513.5 449.3,514.3 448.6,515.0 447.9,515.5 447.3,516.5 446.7,516.2 446.0,516.5 445.4,515.7 444.8,515.9 444.3,515.3 443.7,514.1 443.1,513.2 442.4,512.7 442.1,512.1 441.7,511.1 441.3,510.2 441.0,509.6 440.6,508.4 440.2,507.8 439.8,506.5 439.4,505.9 439.0,505.3 438.7,503.6 438.3,503.6 437.9,502.9 437.5,501.8 437.1,501.5 436.7,501.1 435.9,501.0 435.1,501.2 434.3,501.1 433.4,502.0 432.6,502.2 431.8,502.6 431.0,503.4 430.4,504.3 429.8,505.1 429.2,506.2 428.6,507.2 428.0,508.1 427.4,508.4 426.7,508.4 426.1,509.0 425.4,509.9 424.9,509.0 424.3,509.1 423.7,508.9 423.1,508.0 422.5,507.5 421.9,507.4 421.2,506.3 420.6,505.6 420.0,504.8 419.4,503.7 418.8,503.0 418.3,501.7 417.9,502.2 417.5,501.0 417.1,500.7 416.8,499.2 416.4,498.8 416.1,497.7 415.8,496.7 415.4,496.5 415.1,494.9 414.7,494.6 414.4,494.0 414.0,493.3 413.6,492.9 413.2,492.0 412.7,491.0 412.1,490.4 411.5,489.3 410.8,489.0 410.1,487.9 409.4,487.9 408.7,487.5 408.0,486.6 407.3,486.2 406.5,485.6 405.9,485.3 405.2,485.0 404.6,484.0 404.0,483.6 403.1,483.3 402.3,483.2 401.6,482.0 400.9,481.4 400.2,481.0 399.4,480.4 398.5,480.8 397.9,480.7 397.2,481.5 396.4,482.3 395.7,482.8 394.9,483.5 394.1,483.5 393.3,484.2 392.5,485.4 391.8,485.1 391.1,485.7 390.5,486.0 390.0,487.0 388.8,487.8 388.2,487.8 387.3,488.1 386.7,487.6 386.0,488.2 385.3,488.2 384.5,488.1 383.6,487.7 382.7,487.8 381.7,486.7 381.2,486.6 380.7,485.6 380.2,485.4 379.6,485.1 379.0,484.2 378.4,482.9 377.8,482.8 377.2,481.2 376.6,480.3 376.0,479.6 375.4,479.6 374.8,479.2 374.2,478.5 373.6,478.0 373.0,478.2 372.3,478.1 371.7,478.2 371.1,478.5 370.4,479.1 369.8,479.2 369.2,480.6 368.5,481.5 367.9,481.7 367.3,482.9 366.6,483.0 366.0,484.4 365.4,485.0 364.7,484.9 363.9,485.3 363.1,485.2 362.3,485.5 361.5,486.7 360.7,486.3 360.0,486.4 359.2,486.4 358.4,487.6 357.6,487.4 356.8,488.1 356.0,487.5 355.2,488.3 354.5,488.9 353.7,489.1 353.0,490.4 352.2,490.6 351.5,490.3 350.7,491.8 350.0,491.1 349.2,492.4 348.5,491.8 347.7,492.4 347.0,491.5 346.4,491.4 345.7,491.0 344.9,491.1 344.2,490.0 343.5,489.6 342.8,488.2 342.1,488.5 341.5,487.7 340.8,486.3 340.2,486.5 339.6,485.1 339.0,485.1 338.2,484.5 337.5,483.0 336.8,482.3 336.2,482.2 335.6,481.8 335.0,480.6 334.3,481.2 333.5,481.2 333.0,480.7 332.6,481.2 332.0,482.5 331.5,483.2 330.9,483.6 330.4,484.1 329.8,485.3 329.2,486.0 328.6,486.5 328.1,487.7 327.5,488.7 326.9,489.1 326.4,489.8 325.9,490.0 325.4,490.3 325.0,490.5 324.1,492.3 323.4,492.7 322.8,493.2 322.2,493.2 321.3,492.4 320.0,491.8 319.6,491.5 319.1,490.9 318.6,491.6 318.0,490.7 317.4,490.9 316.8,489.4 316.2,490.0 315.6,489.3 314.9,488.3 314.2,488.4 313.5,488.1 312.8,487.0 312.2,486.7 311.5,486.3 310.8,485.2 310.1,484.1 309.5,484.1 308.8,483.9 308.2,482.8 307.6,482.0 307.0,481.6 306.5,481.0 306.0,480.3 305.6,479.9 305.2,479.1 304.8,478.5 304.4,477.4 304.0,476.1 303.7,475.9 303.3,475.2 303.0,474.3 302.6,473.1 302.3,471.6 302.0,470.5 301.7,470.6 301.4,468.9 301.1,467.9 300.8,468.0 300.5,467.2 300.3,466.3 300.0,464.5 299.7,463.7 299.5,463.1 299.2,462.7 299.0,461.9 298.7,461.0 298.5,460.4 298.2,459.9 298.0,460.0 296.9,458.1 296.0,458.5 295.2,458.6 294.4,459.9 293.5,460.2 292.7,460.7 292.0,461.6 291.1,461.8 290.3,462.0 289.5,462.3 288.6,462.8 287.8,461.3 287.6,460.9 287.4,460.4 287.2,460.0 287.0,459.6 286.8,458.8 286.6,458.3 286.4,457.4 286.2,457.0 286.0,455.3 285.8,454.5 285.6,454.3 285.4,452.6 285.2,451.2 285.0,451.0 284.8,449.9 284.5,449.1 284.3,447.6 284.1,447.3 283.9,445.8 283.7,444.7 283.5,444.6 283.2,443.3 283.0,443.1 282.8,441.7 282.5,440.7 282.3,440.2 282.0,439.4 281.4,439.4 280.7,438.2 280.0,437.5 279.3,436.8 278.6,435.8 277.8,435.5 277.1,434.9 276.4,434.9 275.7,434.9 275.0,434.7 274.3,434.8 273.7,434.6 272.7,433.6 271.8,433.5 270.9,434.4 270.0,434.7 269.3,434.3 268.6,434.2 268.0,433.5 267.8,432.7 267.7,431.5 267.5,430.9 267.4,430.4 267.3,430.1 267.2,428.8 267.2,428.0 267.1,427.9 267.1,426.6 267.0,425.1 266.9,424.7 266.9,423.9 266.8,422.9 266.8,421.7 266.7,420.5 266.6,420.3 266.5,419.1 266.3,418.7 266.2,417.5 266.0,417.3 265.7,416.2 265.4,414.8 265.1,414.8 264.7,413.4 264.3,412.8 263.9,412.0 263.5,411.3 263.1,411.1 262.7,409.8 262.2,408.9 261.8,409.2 261.4,407.9 261.0,407.4 260.6,406.7 260.3,406.1 259.9,405.4 259.6,403.9 259.2,403.3 258.9,402.9 258.5,402.4 258.2,402.1 257.9,400.6 257.6,400.2 257.3,398.9 257.0,398.3 256.6,397.6 256.3,397.4 256.0,395.5 255.8,395.3 255.5,394.4 255.3,393.3 255.1,393.2 254.9,392.3 254.7,391.7 254.4,390.7 254.2,389.9 254.0,389.1 253.8,387.9 253.5,386.7 253.3,385.6 253.1,385.0 252.8,383.9 252.6,384.0 252.3,383.0 252.1,382.8 251.8,381.7 251.1,380.9 250.4,380.2 249.7,378.9 248.9,379.4 248.1,378.6 247.4,378.1 246.6,378.2 246.0,377.8 245.4,377.4 244.8,375.8 244.3,375.5 243.8,375.6 243.3,374.8 242.7,373.4 242.0,373.5 241.6,372.8 241.2,372.3 240.8,371.1 240.4,370.6 240.0,370.2 239.5,369.7 239.1,369.1 238.6,367.9 238.1,367.9 237.6,367.1 237.1,365.5 236.6,365.7 236.0,365.0 235.4,363.5 234.8,363.4 234.2,363.3 233.6,361.8 233.0,362.1 232.3,361.0 231.6,361.4 230.9,360.2 230.2,360.1 229.5,359.4 228.8,358.8 228.0,358.0 227.3,358.0 226.6,357.4 225.9,356.5 225.3,356.2 224.6,356.2 224.1,355.1 223.5,354.3 223.0,354.1 222.5,353.9 222.0,353.3 221.6,351.4 221.2,351.1 220.8,350.0 220.4,349.5 220.0,348.8 219.7,347.8 219.3,347.8 218.9,346.6 218.5,346.4 218.1,345.8 217.7,344.7 217.2,344.1 216.7,343.6 216.0,343.4 215.3,342.3 214.6,342.7 213.8,341.2 213.0,341.6 212.2,341.4 211.4,341.2 210.6,341.2 209.8,340.0 209.0,339.6 208.2,340.0 207.4,340.2 206.7,339.0 205.9,339.3 205.2,339.2 204.4,338.6 203.6,337.8 202.9,337.5 202.2,336.5 201.4,336.4 200.7,336.5 200.0,336.5 199.3,336.2 198.7,335.1 198.0,335.3 197.1,334.9 196.3,334.9 195.5,333.8 194.7,333.5 193.9,333.6 193.2,332.9 192.4,333.4 191.7,332.2 191.0,331.8 190.5,331.2 190.0,331.4 189.6,329.9 189.2,329.5 188.8,328.4 188.4,328.2 188.0,327.3 187.6,326.2 187.1,325.4 186.7,325.7 186.1,324.9 185.5,324.1 185.0,323.2 184.5,322.3 184.0,321.6 183.4,320.9 182.8,321.2 182.2,320.3 181.5,319.8 180.9,318.3 180.2,317.8 179.6,317.1 179.0,316.3 178.3,316.3 177.7,315.3 177.1,314.9 176.6,314.4 176.1,313.9 175.6,313.7 174.6,312.6 173.8,312.8 173.1,312.2 172.5,311.8 171.8,311.9 171.0,311.5 170.0,311.4 169.4,310.6 168.8,310.8 168.1,310.0 167.4,309.4 166.7,309.1 165.9,309.0 165.2,309.0 164.4,308.0 163.6,307.8 162.8,307.3 162.1,307.5 161.4,306.5 160.7,305.8 160.0,304.9 159.6,304.2 159.1,303.4 158.7,303.3 158.3,302.2 157.8,302.0 157.4,300.7 157.0,300.7 156.5,300.0 156.1,298.3 155.7,298.1 155.3,296.9 154.9,296.0 154.5,296.1 154.1,294.2 153.8,293.9 153.4,293.5 153.1,292.2 152.8,291.9 152.5,290.7 152.2,290.5 152.0,289.6 151.6,289.5 151.3,288.5 151.0,287.4 150.9,286.7 150.8,286.4 150.7,285.1 150.6,284.8 150.5,283.4 150.3,283.5 150.0,282.2 149.8,281.9 149.6,280.9 149.4,279.5 149.1,278.9 148.8,278.3 148.6,277.6 148.3,276.7 148.0,275.6 147.7,274.8 147.4,274.8 147.1,273.8 146.9,272.5 146.6,271.4 146.3,271.4 146.1,270.4 145.9,269.9 145.7,268.7 145.5,267.6 145.3,266.8 145.2,266.9 145.1,265.8 145.0,264.3 144.9,263.6 144.8,263.9 144.7,262.6 144.7,261.7 144.6,261.4 144.6,260.7 144.5,260.0 144.4,258.1 144.3,258.2 144.3,257.0 144.1,255.8 144.0,255.6 143.9,254.3 143.8,253.2 143.7,253.3 143.6,252.4 143.5,251.0 143.4,250.3 143.3,249.7 143.2,249.2 143.0,248.0 142.9,247.1 142.8,246.2 142.7,245.6 142.5,245.3 142.4,244.7 142.3,243.6 142.1,242.6 142.0,241.2 141.8,241.4 141.7,240.3 141.5,239.6 141.4,238.0 141.2,237.2 141.0,236.9 140.9,235.9 140.7,234.7 140.5,234.8 140.3,232.9 140.1,233.1 139.9,232.3 139.7,231.1 139.5,230.5 139.3,229.9 139.1,228.6 138.9,227.5 138.6,227.5 138.4,226.6 138.2,225.1 137.9,224.3 137.7,223.3 137.5,223.6 137.2,222.6 137.0,221.6 136.8,221.0 136.6,219.7 136.3,219.4 136.1,218.8 135.9,217.4 135.7,216.6 135.5,215.9 135.3,215.1 135.1,214.3 134.9,212.9 134.7,213.2 134.5,212.0 134.4,210.5 134.2,210.2 134.0,209.6 133.8,208.5 133.6,207.9 133.5,206.7 133.3,205.6 133.1,205.6 133.0,204.9 132.8,203.6 132.6,203.0 132.5,201.8 132.3,201.2 132.1,201.1 132.0,199.8 131.8,199.1 131.6,198.4 131.5,197.5 131.3,197.1 131.2,196.0 131.0,195.3 130.8,194.4 130.7,193.6 130.5,193.0 130.4,191.8 130.2,191.1 130.0,189.9 129.9,188.7 129.7,188.3 129.5,186.7 129.4,186.2 129.2,185.0 129.1,184.3 128.9,183.9 128.8,182.6 128.6,182.3 128.5,181.4 128.3,180.1 128.2,179.9 128.0,178.8 127.9,178.5 127.8,177.9 127.6,176.4 127.5,176.1 127.4,175.5 127.3,174.4 126.9,173.0 126.7,171.9 126.4,171.6 126.2,171.3 126.0,170.8 125.7,169.4 125.5,169.5 125.3,169.2 125.1,167.4 124.8,167.6 124.6,166.6 124.3,164.8 124.1,164.5 123.9,163.0 123.6,162.1 123.4,161.4 123.2,160.5 123.0,160.1 122.8,159.3 122.7,158.4 122.5,157.6 122.4,156.4 122.3,155.4 122.2,155.3 122.0,154.4 121.9,153.6 121.8,152.6 121.7,151.0 121.6,150.5 121.5,150.1 121.4,148.7 121.2,147.7 121.1,147.4 121.0,146.3 120.9,145.0 120.7,144.2 120.6,144.3 120.5,143.0 120.5,142.0 120.4,141.9" fill="rgb(0,114,178)" fill-opacity="0.2" stroke="rgb(0,114,178)" stroke-opacity="0.2" stroke-width="1.3" stroke-linejoin="round"/>
<path d="M920.6 399.2V476.0M923.6 397.6V475.0M926.6 402.0V476.0M929.4 406.8V485.0M932.4 408.0V486.0M935.4 406.4V484.5M938.4 404.0V483.7M941.4 404.8V484.0M944.2 406.0V485.6" stroke="rgb(0,114,178)" stroke-opacity="0.2" stroke-width="2.1"/>
<g stroke="#808080" stroke-opacity="0.2" stroke-width="1.39" fill="none"><path d="M79.5 540.50H985.5"/><path d="M79.5 468.50H985.5"/><path d="M79.5 396.50H985.5"/><path d="M79.5 325.50H985.5"/><path d="M79.5 253.50H985.5"/><path d="M79.5 181.50H985.5"/><path d="M79.5 109.50H985.5"/><path d="M79.5 38.50H985.5"/><path d="M139.50 15.5V542.5"/><path d="M295.50 15.5V542.5"/><path d="M451.50 15.5V542.5"/><path d="M607.50 15.5V542.5"/><path d="M763.50 15.5V542.5"/><path d="M919.50 15.5V542.5"/></g>
<g fill="#000"><circle cx="121.6" cy="39.5" r="2.72"/><circle cx="122.8" cy="39.2" r="2.72"/><circle cx="123.4" cy="70.4" r="2.72"/><circle cx="123.4" cy="78.4" r="2.72"/><circle cx="124.5" cy="109.4" r="2.72"/><circle cx="126.4" cy="122.4" r="2.72"/><circle cx="126.4" cy="132.4" r="2.72"/><circle cx="125.8" cy="137.5" r="2.72"/><circle cx="125.8" cy="139.6" r="2.72"/><circle cx="144.4" cy="143.4" r="2.72"/><circle cx="143.4" cy="154.4" r="2.72"/><circle cx="127.3" cy="166.3" r="2.72"/><circle cx="128.5" cy="170.5" r="2.72"/><circle cx="127.7" cy="179.2" r="2.72"/><circle cx="131.8" cy="179.2" r="2.72"/><circle cx="142.4" cy="178.3" r="2.72"/><circle cx="129.2" cy="194.5" r="2.72"/><circle cx="133.7" cy="195.2" r="2.72"/><circle cx="141.2" cy="195.2" r="2.72"/><circle cx="141.5" cy="198.2" r="2.72"/><circle cx="131.2" cy="205.0" r="2.72"/><circle cx="137.5" cy="204.2" r="2.72"/><circle cx="140.5" cy="208.0" r="2.72"/><circle cx="133.0" cy="212.5" r="2.72"/><circle cx="134.5" cy="211.7" r="2.72"/><circle cx="132.2" cy="216.2" r="2.72"/><circle cx="137.5" cy="217.7" r="2.72"/><circle cx="144.7" cy="215.2" r="2.72"/><circle cx="130.3" cy="221.8" r="2.72"/><circle cx="129.2" cy="229.3" r="2.72"/><circle cx="136.4" cy="228.2" r="2.72"/><circle cx="135.5" cy="235.7" r="2.72"/><circle cx="135.5" cy="238.0" r="2.72"/><circle cx="134.5" cy="245.5" r="2.72"/><circle cx="210.0" cy="335.0" r="2.72"/><circle cx="212.0" cy="336.0" r="2.72"/><circle cx="201.0" cy="314.0" r="2.72"/><circle cx="202.0" cy="318.0" r="2.72"/><circle cx="187.0" cy="300.0" r="2.72"/><circle cx="186.0" cy="304.0" r="2.72"/><circle cx="188.0" cy="306.0" r="2.72"/><circle cx="192.0" cy="310.0" r="2.72"/><circle cx="198.0" cy="312.0" r="2.72"/><circle cx="199.0" cy="315.0" r="2.72"/><circle cx="196.0" cy="318.0" r="2.72"/><circle cx="200.0" cy="318.0" r="2.72"/><circle cx="203.0" cy="320.0" r="2.72"/><circle cx="205.0" cy="321.0" r="2.72"/><circle cx="195.0" cy="326.0" r="2.72"/><circle cx="198.0" cy="325.0" r="2.72"/><circle cx="204.0" cy="324.0" r="2.72"/><circle cx="207.0" cy="327.0" r="2.72"/><circle cx="205.0" cy="330.0" r="2.72"/><circle cx="208.0" cy="324.0" r="2.72"/><circle cx="212.0" cy="325.0" r="2.72"/><circle cx="214.0" cy="322.0" r="2.72"/><circle cx="216.0" cy="322.0" r="2.72"/><circle cx="218.0" cy="326.0" r="2.72"/><circle cx="221.0" cy="327.0" r="2.72"/><circle cx="222.0" cy="329.0" r="2.72"/><circle cx="212.0" cy="336.0" r="2.72"/><circle cx="219.0" cy="338.0" r="2.72"/><circle cx="221.0" cy="341.0" r="2.72"/><circle cx="153.0" cy="286.0" r="2.72"/><circle cx="151.0" cy="290.0" r="2.72"/><circle cx="155.0" cy="293.0" r="2.72"/><circle cx="154.0" cy="297.0" r="2.72"/><circle cx="157.0" cy="301.0" r="2.72"/><circle cx="158.0" cy="304.0" r="2.72"/><circle cx="160.0" cy="307.0" r="2.72"/><circle cx="163.0" cy="309.0" r="2.72"/><circle cx="150.5" cy="268.0" r="2.72"/><circle cx="151.0" cy="273.0" r="2.72"/><circle cx="151.0" cy="276.0" r="2.72"/><circle cx="177.5" cy="275.0" r="2.72"/><circle cx="183.3" cy="275.0" r="2.72"/><circle cx="186.0" cy="280.0" r="2.72"/><circle cx="186.0" cy="283.0" r="2.72"/><circle cx="175.0" cy="280.0" r="2.72"/><circle cx="172.0" cy="284.0" r="2.72"/><circle cx="170.0" cy="287.0" r="2.72"/><circle cx="171.0" cy="290.0" r="2.72"/><circle cx="174.0" cy="293.0" r="2.72"/><circle cx="182.0" cy="289.0" r="2.72"/><circle cx="183.0" cy="291.0" r="2.72"/><circle cx="181.0" cy="290.0" r="2.72"/><circle cx="167.0" cy="298.0" r="2.72"/><circle cx="170.0" cy="302.0" r="2.72"/><circle cx="173.0" cy="301.0" r="2.72"/><circle cx="175.0" cy="298.0" r="2.72"/><circle cx="330.5" cy="445.5" r="2.72"/><circle cx="330.5" cy="451.0" r="2.72"/><circle cx="511.0" cy="458.0" r="2.72"/><circle cx="511.0" cy="464.0" r="2.72"/><circle cx="550.0" cy="438.0" r="2.72"/><circle cx="571.0" cy="424.0" r="2.72"/><circle cx="804.5" cy="471.5" r="2.72"/><circle cx="838.5" cy="404.0" r="2.72"/><circle cx="904.0" cy="462.0" r="2.72"/><circle cx="355.0" cy="479.0" r="2.72"/><circle cx="359.0" cy="479.0" r="2.72"/><circle cx="384.0" cy="463.0" r="2.72"/><circle cx="392.0" cy="465.0" r="2.72"/><circle cx="144.9" cy="261.1" r="2.72"/><circle cx="146.5" cy="261.4" r="2.72"/><circle cx="146.6" cy="262.4" r="2.72"/><circle cx="146.9" cy="263.1" r="2.72"/><circle cx="148.3" cy="264.6" r="2.72"/><circle cx="147.0" cy="264.5" r="2.72"/><circle cx="146.5" cy="266.5" r="2.72"/><circle cx="147.1" cy="266.1" r="2.72"/><circle cx="147.2" cy="269.0" r="2.72"/><circle cx="146.3" cy="269.2" r="2.72"/><circle cx="145.7" cy="269.1" r="2.72"/><circle cx="147.1" cy="270.3" r="2.72"/><circle cx="147.1" cy="271.6" r="2.72"/><circle cx="147.1" cy="272.9" r="2.72"/><circle cx="147.3" cy="274.4" r="2.72"/><circle cx="146.3" cy="274.5" r="2.72"/><circle cx="145.2" cy="275.0" r="2.72"/><circle cx="144.9" cy="274.6" r="2.72"/><circle cx="146.5" cy="276.1" r="2.72"/><circle cx="147.2" cy="275.6" r="2.72"/><circle cx="147.4" cy="274.6" r="2.72"/><circle cx="148.7" cy="274.2" r="2.72"/><circle cx="150.8" cy="274.8" r="2.72"/><circle cx="151.7" cy="274.8" r="2.72"/><circle cx="151.0" cy="275.0" r="2.72"/><circle cx="150.9" cy="287.7" r="2.72"/><circle cx="149.8" cy="286.0" r="2.72"/><circle cx="152.8" cy="285.9" r="2.72"/><circle cx="154.0" cy="285.8" r="2.72"/><circle cx="152.8" cy="286.9" r="2.72"/><circle cx="154.8" cy="287.2" r="2.72"/><circle cx="153.9" cy="288.5" r="2.72"/><circle cx="155.9" cy="290.5" r="2.72"/><circle cx="154.2" cy="290.5" r="2.72"/><circle cx="153.9" cy="291.1" r="2.72"/><circle cx="154.9" cy="292.5" r="2.72"/><circle cx="154.2" cy="294.0" r="2.72"/><circle cx="153.4" cy="295.5" r="2.72"/><circle cx="153.6" cy="296.1" r="2.72"/><circle cx="154.0" cy="296.3" r="2.72"/><circle cx="154.9" cy="296.7" r="2.72"/><circle cx="156.9" cy="298.6" r="2.72"/><circle cx="156.0" cy="299.7" r="2.72"/><circle cx="156.2" cy="299.7" r="2.72"/><circle cx="157.8" cy="301.3" r="2.72"/><circle cx="156.7" cy="303.1" r="2.72"/><circle cx="157.4" cy="302.5" r="2.72"/><circle cx="159.2" cy="303.6" r="2.72"/><circle cx="159.0" cy="303.8" r="2.72"/><circle cx="159.4" cy="305.5" r="2.72"/><circle cx="160.5" cy="306.2" r="2.72"/><circle cx="161.5" cy="306.4" r="2.72"/><circle cx="163.5" cy="306.9" r="2.72"/><circle cx="163.5" cy="308.1" r="2.72"/><circle cx="163.4" cy="307.3" r="2.72"/><circle cx="165.4" cy="309.5" r="2.72"/><circle cx="164.7" cy="309.3" r="2.72"/><circle cx="166.1" cy="311.8" r="2.72"/><circle cx="165.4" cy="312.9" r="2.72"/><circle cx="166.9" cy="313.2" r="2.72"/><circle cx="166.0" cy="313.2" r="2.72"/><circle cx="165.1" cy="315.9" r="2.72"/><circle cx="165.5" cy="316.4" r="2.72"/><circle cx="165.5" cy="317.7" r="2.72"/><circle cx="166.1" cy="317.6" r="2.72"/><circle cx="165.3" cy="319.5" r="2.72"/><circle cx="165.1" cy="319.5" r="2.72"/><circle cx="166.4" cy="321.9" r="2.72"/><circle cx="166.9" cy="321.8" r="2.72"/><circle cx="167.8" cy="322.4" r="2.72"/><circle cx="167.0" cy="323.0" r="2.72"/><circle cx="160.0" cy="303.5" r="2.72"/><circle cx="161.4" cy="302.8" r="2.72"/><circle cx="161.7" cy="303.0" r="2.72"/><circle cx="163.3" cy="302.0" r="2.72"/><circle cx="163.7" cy="302.8" r="2.72"/><circle cx="165.6" cy="301.6" r="2.72"/><circle cx="165.7" cy="300.5" r="2.72"/><circle cx="165.3" cy="298.5" r="2.72"/><circle cx="165.6" cy="299.4" r="2.72"/><circle cx="167.4" cy="298.9" r="2.72"/><circle cx="167.0" cy="298.0" r="2.72"/><circle cx="173.0" cy="293.3" r="2.72"/><circle cx="173.4" cy="292.9" r="2.72"/><circle cx="172.2" cy="292.7" r="2.72"/><circle cx="170.8" cy="290.9" r="2.72"/><circle cx="171.5" cy="290.8" r="2.72"/><circle cx="170.9" cy="289.4" r="2.72"/><circle cx="170.6" cy="288.8" r="2.72"/><circle cx="169.7" cy="287.4" r="2.72"/><circle cx="171.1" cy="287.0" r="2.72"/><circle cx="170.6" cy="286.1" r="2.72"/><circle cx="172.1" cy="285.0" r="2.72"/><circle cx="172.2" cy="283.8" r="2.72"/><circle cx="172.7" cy="283.5" r="2.72"/><circle cx="172.3" cy="282.8" r="2.72"/><circle cx="174.8" cy="282.5" r="2.72"/><circle cx="174.9" cy="280.7" r="2.72"/><circle cx="175.5" cy="280.2" r="2.72"/><circle cx="175.3" cy="279.8" r="2.72"/><circle cx="175.0" cy="278.7" r="2.72"/><circle cx="175.3" cy="277.4" r="2.72"/><circle cx="176.6" cy="275.7" r="2.72"/><circle cx="177.5" cy="275.5" r="2.72"/><circle cx="177.7" cy="275.8" r="2.72"/><circle cx="178.0" cy="274.0" r="2.72"/><circle cx="179.1" cy="275.9" r="2.72"/><circle cx="179.9" cy="275.3" r="2.72"/><circle cx="182.3" cy="275.9" r="2.72"/><circle cx="182.3" cy="275.7" r="2.72"/><circle cx="183.0" cy="275.3" r="2.72"/><circle cx="183.2" cy="275.4" r="2.72"/><circle cx="184.9" cy="277.1" r="2.72"/><circle cx="185.6" cy="277.0" r="2.72"/><circle cx="185.5" cy="277.9" r="2.72"/><circle cx="185.0" cy="279.2" r="2.72"/><circle cx="186.7" cy="280.7" r="2.72"/><circle cx="186.6" cy="282.2" r="2.72"/><circle cx="185.7" cy="281.6" r="2.72"/><circle cx="185.9" cy="282.6" r="2.72"/><circle cx="186.0" cy="283.0" r="2.72"/><circle cx="181.4" cy="290.8" r="2.72"/><circle cx="182.5" cy="291.5" r="2.72"/><circle cx="182.2" cy="293.0" r="2.72"/><circle cx="183.9" cy="293.1" r="2.72"/><circle cx="182.5" cy="293.3" r="2.72"/><circle cx="184.6" cy="294.4" r="2.72"/><circle cx="184.7" cy="296.4" r="2.72"/><circle cx="184.3" cy="297.8" r="2.72"/><circle cx="184.0" cy="297.3" r="2.72"/><circle cx="185.5" cy="298.3" r="2.72"/><circle cx="186.8" cy="299.7" r="2.72"/><circle cx="185.9" cy="300.2" r="2.72"/><circle cx="187.3" cy="301.9" r="2.72"/><circle cx="187.6" cy="303.3" r="2.72"/><circle cx="188.1" cy="305.0" r="2.72"/><circle cx="188.1" cy="304.5" r="2.72"/><circle cx="188.0" cy="305.4" r="2.72"/><circle cx="187.4" cy="306.8" r="2.72"/><circle cx="189.3" cy="307.0" r="2.72"/><circle cx="189.0" cy="308.0" r="2.72"/><circle cx="190.4" cy="309.0" r="2.72"/><circle cx="190.9" cy="310.1" r="2.72"/><circle cx="191.2" cy="310.6" r="2.72"/><circle cx="193.0" cy="309.6" r="2.72"/><circle cx="193.9" cy="311.4" r="2.72"/><circle cx="193.0" cy="311.6" r="2.72"/><circle cx="194.8" cy="313.3" r="2.72"/><circle cx="195.1" cy="313.4" r="2.72"/><circle cx="196.8" cy="314.6" r="2.72"/><circle cx="197.5" cy="314.7" r="2.72"/><circle cx="197.4" cy="314.9" r="2.72"/><circle cx="198.0" cy="316.9" r="2.72"/><circle cx="198.3" cy="317.4" r="2.72"/><circle cx="198.0" cy="318.5" r="2.72"/><circle cx="200.3" cy="319.5" r="2.72"/><circle cx="199.9" cy="319.8" r="2.72"/><circle cx="199.6" cy="320.8" r="2.72"/><circle cx="200.3" cy="320.4" r="2.72"/><circle cx="197.9" cy="321.4" r="2.72"/><circle cx="197.8" cy="322.8" r="2.72"/><circle cx="197.0" cy="322.1" r="2.72"/><circle cx="197.0" cy="323.3" r="2.72"/><circle cx="196.6" cy="324.6" r="2.72"/><circle cx="195.7" cy="326.6" r="2.72"/><circle cx="195.9" cy="325.4" r="2.72"/><circle cx="197.8" cy="326.2" r="2.72"/><circle cx="199.7" cy="325.4" r="2.72"/><circle cx="200.5" cy="324.4" r="2.72"/><circle cx="201.2" cy="322.9" r="2.72"/><circle cx="200.4" cy="322.9" r="2.72"/><circle cx="201.2" cy="322.5" r="2.72"/><circle cx="202.6" cy="321.5" r="2.72"/><circle cx="203.7" cy="321.1" r="2.72"/><circle cx="203.6" cy="320.7" r="2.72"/><circle cx="205.7" cy="322.0" r="2.72"/><circle cx="205.4" cy="322.3" r="2.72"/><circle cx="207.9" cy="322.0" r="2.72"/><circle cx="208.1" cy="321.7" r="2.72"/><circle cx="209.1" cy="322.5" r="2.72"/><circle cx="210.2" cy="321.8" r="2.72"/><circle cx="211.9" cy="323.0" r="2.72"/><circle cx="211.8" cy="323.8" r="2.72"/><circle cx="213.1" cy="323.4" r="2.72"/><circle cx="214.4" cy="322.7" r="2.72"/><circle cx="215.1" cy="323.8" r="2.72"/><circle cx="216.7" cy="325.3" r="2.72"/><circle cx="216.2" cy="325.0" r="2.72"/><circle cx="216.7" cy="325.6" r="2.72"/><circle cx="218.9" cy="327.2" r="2.72"/><circle cx="219.0" cy="326.6" r="2.72"/><circle cx="219.3" cy="328.1" r="2.72"/><circle cx="221.6" cy="327.9" r="2.72"/><circle cx="222.0" cy="328.5" r="2.72"/><circle cx="221.4" cy="329.5" r="2.72"/><circle cx="222.0" cy="330.0" r="2.72"/><circle cx="217.4" cy="336.6" r="2.72"/><circle cx="217.3" cy="337.8" r="2.72"/><circle cx="217.6" cy="338.7" r="2.72"/><circle cx="218.5" cy="339.1" r="2.72"/><circle cx="219.5" cy="339.4" r="2.72"/><circle cx="220.7" cy="340.8" r="2.72"/><circle cx="220.9" cy="341.6" r="2.72"/><circle cx="221.7" cy="342.2" r="2.72"/><circle cx="221.4" cy="344.3" r="2.72"/><circle cx="222.4" cy="344.9" r="2.72"/><circle cx="222.8" cy="346.1" r="2.72"/><circle cx="222.7" cy="346.3" r="2.72"/><circle cx="222.4" cy="348.5" r="2.72"/><circle cx="222.7" cy="348.6" r="2.72"/><circle cx="221.6" cy="350.8" r="2.72"/><circle cx="221.6" cy="351.9" r="2.72"/><circle cx="223.3" cy="351.0" r="2.72"/><circle cx="222.3" cy="353.1" r="2.72"/><circle cx="222.7" cy="352.7" r="2.72"/><circle cx="224.2" cy="354.2" r="2.72"/><circle cx="224.4" cy="354.4" r="2.72"/><circle cx="223.8" cy="356.4" r="2.72"/><circle cx="223.1" cy="356.5" r="2.72"/><circle cx="224.4" cy="359.1" r="2.72"/><circle cx="224.8" cy="358.6" r="2.72"/><circle cx="223.9" cy="360.8" r="2.72"/><circle cx="224.0" cy="361.4" r="2.72"/><circle cx="224.2" cy="360.7" r="2.72"/><circle cx="225.2" cy="360.7" r="2.72"/><circle cx="227.1" cy="362.0" r="2.72"/><circle cx="227.6" cy="362.1" r="2.72"/><circle cx="227.1" cy="363.3" r="2.72"/><circle cx="228.6" cy="366.0" r="2.72"/><circle cx="228.9" cy="365.2" r="2.72"/><circle cx="226.8" cy="368.0" r="2.72"/><circle cx="227.1" cy="368.6" r="2.72"/><circle cx="226.7" cy="368.9" r="2.72"/><circle cx="227.3" cy="369.6" r="2.72"/><circle cx="228.0" cy="369.5" r="2.72"/><circle cx="228.8" cy="371.9" r="2.72"/><circle cx="228.4" cy="371.9" r="2.72"/><circle cx="230.0" cy="372.7" r="2.72"/><circle cx="229.6" cy="373.2" r="2.72"/><circle cx="230.7" cy="373.9" r="2.72"/><circle cx="231.8" cy="376.6" r="2.72"/><circle cx="231.4" cy="377.7" r="2.72"/><circle cx="231.0" cy="377.9" r="2.72"/><circle cx="230.6" cy="379.2" r="2.72"/><circle cx="231.1" cy="380.8" r="2.72"/><circle cx="229.5" cy="381.8" r="2.72"/><circle cx="230.8" cy="383.2" r="2.72"/><circle cx="231.6" cy="382.8" r="2.72"/><circle cx="232.0" cy="383.2" r="2.72"/><circle cx="231.9" cy="382.1" r="2.72"/><circle cx="232.3" cy="380.3" r="2.72"/><circle cx="232.5" cy="378.5" r="2.72"/><circle cx="232.0" cy="378.2" r="2.72"/><circle cx="231.7" cy="377.2" r="2.72"/><circle cx="233.3" cy="377.2" r="2.72"/><circle cx="233.2" cy="378.0" r="2.72"/><circle cx="234.9" cy="377.5" r="2.72"/><circle cx="235.7" cy="379.0" r="2.72"/><circle cx="236.1" cy="379.8" r="2.72"/><circle cx="237.4" cy="381.1" r="2.72"/><circle cx="237.0" cy="382.3" r="2.72"/><circle cx="237.8" cy="381.9" r="2.72"/><circle cx="237.2" cy="384.4" r="2.72"/><circle cx="236.5" cy="384.8" r="2.72"/><circle cx="236.0" cy="385.4" r="2.72"/><circle cx="236.5" cy="386.3" r="2.72"/><circle cx="236.1" cy="389.1" r="2.72"/><circle cx="236.4" cy="389.4" r="2.72"/><circle cx="237.1" cy="390.5" r="2.72"/><circle cx="237.0" cy="391.3" r="2.72"/><circle cx="236.0" cy="391.0" r="2.72"/><circle cx="236.6" cy="384.2" r="2.72"/><circle cx="236.3" cy="385.0" r="2.72"/><circle cx="235.4" cy="384.6" r="2.72"/><circle cx="235.8" cy="382.8" r="2.72"/><circle cx="236.0" cy="381.9" r="2.72"/><circle cx="237.1" cy="380.0" r="2.72"/><circle cx="238.0" cy="379.7" r="2.72"/><circle cx="237.4" cy="379.0" r="2.72"/><circle cx="237.3" cy="377.3" r="2.72"/><circle cx="238.1" cy="376.9" r="2.72"/><circle cx="237.6" cy="376.4" r="2.72"/><circle cx="237.9" cy="374.0" r="2.72"/><circle cx="238.1" cy="373.1" r="2.72"/><circle cx="238.2" cy="373.7" r="2.72"/><circle cx="239.0" cy="373.1" r="2.72"/><circle cx="240.0" cy="370.7" r="2.72"/><circle cx="240.7" cy="371.7" r="2.72"/><circle cx="239.1" cy="370.8" r="2.72"/><circle cx="240.1" cy="368.9" r="2.72"/><circle cx="241.5" cy="367.6" r="2.72"/><circle cx="240.8" cy="368.0" r="2.72"/><circle cx="241.3" cy="366.1" r="2.72"/><circle cx="242.0" cy="365.6" r="2.72"/><circle cx="241.2" cy="363.3" r="2.72"/><circle cx="241.2" cy="363.0" r="2.72"/><circle cx="240.3" cy="361.0" r="2.72"/><circle cx="240.9" cy="360.0" r="2.72"/><circle cx="240.7" cy="360.0" r="2.72"/><circle cx="240.7" cy="358.1" r="2.72"/><circle cx="241.0" cy="357.5" r="2.72"/><circle cx="241.6" cy="357.1" r="2.72"/><circle cx="242.8" cy="357.1" r="2.72"/><circle cx="243.4" cy="355.7" r="2.72"/><circle cx="243.2" cy="356.8" r="2.72"/><circle cx="245.4" cy="355.7" r="2.72"/><circle cx="245.3" cy="354.2" r="2.72"/><circle cx="246.8" cy="354.0" r="2.72"/><circle cx="247.2" cy="353.3" r="2.72"/><circle cx="248.0" cy="351.4" r="2.72"/><circle cx="247.3" cy="352.0" r="2.72"/><circle cx="248.8" cy="350.8" r="2.72"/><circle cx="247.1" cy="348.1" r="2.72"/><circle cx="247.2" cy="347.8" r="2.72"/><circle cx="247.3" cy="346.0" r="2.72"/><circle cx="246.5" cy="344.9" r="2.72"/><circle cx="245.2" cy="345.4" r="2.72"/><circle cx="246.0" cy="345.0" r="2.72"/><circle cx="246.1" cy="350.3" r="2.72"/><circle cx="245.9" cy="350.5" r="2.72"/><circle cx="245.8" cy="351.0" r="2.72"/><circle cx="247.1" cy="352.9" r="2.72"/><circle cx="246.0" cy="352.5" r="2.72"/><circle cx="247.8" cy="354.6" r="2.72"/><circle cx="248.0" cy="354.9" r="2.72"/><circle cx="247.6" cy="356.0" r="2.72"/><circle cx="248.7" cy="357.3" r="2.72"/><circle cx="248.7" cy="359.5" r="2.72"/><circle cx="248.4" cy="359.5" r="2.72"/><circle cx="249.5" cy="360.8" r="2.72"/><circle cx="249.6" cy="360.8" r="2.72"/><circle cx="249.8" cy="362.1" r="2.72"/><circle cx="250.5" cy="360.7" r="2.72"/><circle cx="252.1" cy="362.0" r="2.72"/><circle cx="253.1" cy="362.5" r="2.72"/><circle cx="254.0" cy="363.0" r="2.72"/><circle cx="253.4" cy="365.3" r="2.72"/><circle cx="253.2" cy="365.6" r="2.72"/><circle cx="254.0" cy="367.1" r="2.72"/><circle cx="252.3" cy="366.7" r="2.72"/><circle cx="251.5" cy="368.5" r="2.72"/><circle cx="250.6" cy="368.0" r="2.72"/><circle cx="250.6" cy="369.5" r="2.72"/><circle cx="250.8" cy="370.9" r="2.72"/><circle cx="251.2" cy="370.4" r="2.72"/><circle cx="251.8" cy="370.6" r="2.72"/><circle cx="251.8" cy="371.2" r="2.72"/><circle cx="254.2" cy="372.7" r="2.72"/><circle cx="253.8" cy="372.1" r="2.72"/><circle cx="254.7" cy="372.7" r="2.72"/><circle cx="255.2" cy="373.6" r="2.72"/><circle cx="255.0" cy="374.9" r="2.72"/><circle cx="256.3" cy="375.8" r="2.72"/><circle cx="256.5" cy="377.0" r="2.72"/><circle cx="255.4" cy="378.5" r="2.72"/><circle cx="257.0" cy="378.4" r="2.72"/><circle cx="255.5" cy="379.9" r="2.72"/><circle cx="256.7" cy="381.2" r="2.72"/><circle cx="257.8" cy="382.5" r="2.72"/><circle cx="257.7" cy="382.4" r="2.72"/><circle cx="257.5" cy="384.7" r="2.72"/><circle cx="256.9" cy="383.9" r="2.72"/><circle cx="258.5" cy="385.8" r="2.72"/><circle cx="257.6" cy="385.0" r="2.72"/><circle cx="258.1" cy="384.3" r="2.72"/><circle cx="259.6" cy="382.1" r="2.72"/><circle cx="259.2" cy="381.9" r="2.72"/><circle cx="260.2" cy="380.7" r="2.72"/><circle cx="260.4" cy="379.0" r="2.72"/><circle cx="261.9" cy="379.3" r="2.72"/><circle cx="261.3" cy="379.3" r="2.72"/><circle cx="262.2" cy="380.3" r="2.72"/><circle cx="262.9" cy="380.6" r="2.72"/><circle cx="263.1" cy="382.2" r="2.72"/><circle cx="263.4" cy="383.6" r="2.72"/><circle cx="263.6" cy="384.9" r="2.72"/><circle cx="264.0" cy="385.5" r="2.72"/><circle cx="263.0" cy="386.4" r="2.72"/><circle cx="263.2" cy="386.7" r="2.72"/><circle cx="261.6" cy="386.8" r="2.72"/><circle cx="261.3" cy="389.1" r="2.72"/><circle cx="259.6" cy="388.0" r="2.72"/><circle cx="258.6" cy="389.2" r="2.72"/><circle cx="258.6" cy="390.9" r="2.72"/><circle cx="258.4" cy="390.3" r="2.72"/><circle cx="259.0" cy="391.8" r="2.72"/><circle cx="261.1" cy="391.7" r="2.72"/><circle cx="260.5" cy="393.1" r="2.72"/><circle cx="262.5" cy="394.8" r="2.72"/><circle cx="262.3" cy="393.8" r="2.72"/><circle cx="263.4" cy="394.4" r="2.72"/><circle cx="264.5" cy="395.5" r="2.72"/><circle cx="266.4" cy="394.2" r="2.72"/><circle cx="266.7" cy="393.8" r="2.72"/><circle cx="267.6" cy="394.4" r="2.72"/><circle cx="268.6" cy="394.1" r="2.72"/><circle cx="270.2" cy="394.6" r="2.72"/><circle cx="269.4" cy="396.5" r="2.72"/><circle cx="270.9" cy="396.6" r="2.72"/><circle cx="270.2" cy="399.0" r="2.72"/><circle cx="270.0" cy="398.4" r="2.72"/><circle cx="268.7" cy="400.6" r="2.72"/><circle cx="269.5" cy="400.0" r="2.72"/><circle cx="268.1" cy="400.7" r="2.72"/><circle cx="266.5" cy="402.0" r="2.72"/><circle cx="266.4" cy="400.7" r="2.72"/><circle cx="264.0" cy="401.2" r="2.72"/><circle cx="263.5" cy="401.9" r="2.72"/><circle cx="263.0" cy="401.6" r="2.72"/><circle cx="260.9" cy="400.9" r="2.72"/><circle cx="260.6" cy="401.5" r="2.72"/><circle cx="261.5" cy="402.9" r="2.72"/><circle cx="261.2" cy="404.9" r="2.72"/><circle cx="260.9" cy="405.2" r="2.72"/><circle cx="261.1" cy="406.8" r="2.72"/><circle cx="261.0" cy="407.6" r="2.72"/><circle cx="262.0" cy="407.0" r="2.72"/><circle cx="268.7" cy="398.6" r="2.72"/><circle cx="267.5" cy="398.1" r="2.72"/><circle cx="269.2" cy="398.6" r="2.72"/><circle cx="269.3" cy="400.3" r="2.72"/><circle cx="270.8" cy="401.5" r="2.72"/><circle cx="271.3" cy="402.0" r="2.72"/><circle cx="271.7" cy="403.3" r="2.72"/><circle cx="272.4" cy="403.5" r="2.72"/><circle cx="272.7" cy="404.4" r="2.72"/><circle cx="272.6" cy="406.3" r="2.72"/><circle cx="272.3" cy="407.7" r="2.72"/><circle cx="273.3" cy="407.3" r="2.72"/><circle cx="273.8" cy="408.0" r="2.72"/><circle cx="275.4" cy="409.7" r="2.72"/><circle cx="275.7" cy="410.4" r="2.72"/><circle cx="275.1" cy="410.8" r="2.72"/><circle cx="275.2" cy="412.9" r="2.72"/><circle cx="275.7" cy="413.3" r="2.72"/><circle cx="274.3" cy="413.7" r="2.72"/><circle cx="276.2" cy="414.4" r="2.72"/><circle cx="276.6" cy="415.9" r="2.72"/><circle cx="276.0" cy="418.0" r="2.72"/><circle cx="278.1" cy="417.4" r="2.72"/><circle cx="278.3" cy="418.5" r="2.72"/><circle cx="278.3" cy="420.0" r="2.72"/><circle cx="278.6" cy="420.7" r="2.72"/><circle cx="279.0" cy="422.3" r="2.72"/><circle cx="279.0" cy="422.3" r="2.72"/><circle cx="280.1" cy="423.6" r="2.72"/><circle cx="280.7" cy="425.1" r="2.72"/><circle cx="280.4" cy="425.7" r="2.72"/><circle cx="280.8" cy="426.2" r="2.72"/><circle cx="279.6" cy="427.3" r="2.72"/><circle cx="280.9" cy="429.6" r="2.72"/><circle cx="280.1" cy="429.9" r="2.72"/><circle cx="281.7" cy="431.2" r="2.72"/><circle cx="280.6" cy="431.3" r="2.72"/><circle cx="281.3" cy="431.9" r="2.72"/><circle cx="282.3" cy="432.4" r="2.72"/><circle cx="283.8" cy="433.9" r="2.72"/><circle cx="283.5" cy="435.2" r="2.72"/><circle cx="284.5" cy="436.5" r="2.72"/><circle cx="284.2" cy="436.3" r="2.72"/><circle cx="284.8" cy="436.0" r="2.72"/><circle cx="285.5" cy="437.2" r="2.72"/><circle cx="287.4" cy="436.8" r="2.72"/><circle cx="287.5" cy="435.8" r="2.72"/><circle cx="287.0" cy="434.7" r="2.72"/><circle cx="288.7" cy="434.8" r="2.72"/><circle cx="289.2" cy="433.8" r="2.72"/><circle cx="291.0" cy="434.6" r="2.72"/><circle cx="292.4" cy="434.5" r="2.72"/><circle cx="291.8" cy="435.3" r="2.72"/><circle cx="294.1" cy="435.5" r="2.72"/><circle cx="293.7" cy="436.0" r="2.72"/><circle cx="294.3" cy="436.9" r="2.72"/><circle cx="297.1" cy="437.0" r="2.72"/><circle cx="297.4" cy="438.2" r="2.72"/><circle cx="296.4" cy="438.9" r="2.72"/><circle cx="296.8" cy="437.7" r="2.72"/><circle cx="294.8" cy="438.1" r="2.72"/><circle cx="294.6" cy="439.3" r="2.72"/><circle cx="292.9" cy="440.1" r="2.72"/><circle cx="291.8" cy="439.5" r="2.72"/><circle cx="290.2" cy="440.7" r="2.72"/><circle cx="289.5" cy="440.7" r="2.72"/><circle cx="290.1" cy="440.1" r="2.72"/><circle cx="290.4" cy="439.4" r="2.72"/><circle cx="291.7" cy="440.6" r="2.72"/><circle cx="292.5" cy="439.4" r="2.72"/><circle cx="292.3" cy="439.3" r="2.72"/><circle cx="293.8" cy="439.1" r="2.72"/><circle cx="294.9" cy="438.1" r="2.72"/><circle cx="297.0" cy="437.2" r="2.72"/><circle cx="297.1" cy="437.2" r="2.72"/><circle cx="296.4" cy="437.9" r="2.72"/><circle cx="298.4" cy="440.3" r="2.72"/><circle cx="297.7" cy="440.1" r="2.72"/><circle cx="297.6" cy="442.2" r="2.72"/><circle cx="296.8" cy="443.1" r="2.72"/><circle cx="297.6" cy="443.1" r="2.72"/><circle cx="296.4" cy="444.9" r="2.72"/><circle cx="296.7" cy="445.9" r="2.72"/><circle cx="298.1" cy="446.4" r="2.72"/><circle cx="298.6" cy="447.5" r="2.72"/><circle cx="299.1" cy="448.7" r="2.72"/><circle cx="299.5" cy="449.0" r="2.72"/><circle cx="299.7" cy="450.3" r="2.72"/><circle cx="300.5" cy="452.3" r="2.72"/><circle cx="299.6" cy="453.0" r="2.72"/><circle cx="300.1" cy="454.5" r="2.72"/><circle cx="300.5" cy="455.5" r="2.72"/><circle cx="300.3" cy="457.1" r="2.72"/><circle cx="301.4" cy="457.5" r="2.72"/><circle cx="300.8" cy="457.9" r="2.72"/><circle cx="301.2" cy="459.6" r="2.72"/><circle cx="301.1" cy="459.8" r="2.72"/><circle cx="300.8" cy="461.6" r="2.72"/><circle cx="300.6" cy="461.0" r="2.72"/><circle cx="301.3" cy="463.8" r="2.72"/><circle cx="301.4" cy="464.3" r="2.72"/><circle cx="301.5" cy="464.6" r="2.72"/><circle cx="301.4" cy="465.3" r="2.72"/><circle cx="300.9" cy="467.1" r="2.72"/><circle cx="302.0" cy="468.0" r="2.72"/><circle cx="301.6" cy="469.5" r="2.72"/><circle cx="303.1" cy="469.5" r="2.72"/><circle cx="303.3" cy="470.7" r="2.72"/><circle cx="303.9" cy="470.8" r="2.72"/><circle cx="306.0" cy="473.2" r="2.72"/><circle cx="306.3" cy="473.7" r="2.72"/><circle cx="306.6" cy="474.5" r="2.72"/><circle cx="306.9" cy="475.2" r="2.72"/><circle cx="308.3" cy="476.3" r="2.72"/><circle cx="308.2" cy="476.6" r="2.72"/><circle cx="309.2" cy="476.0" r="2.72"/><circle cx="311.8" cy="474.5" r="2.72"/><circle cx="311.5" cy="474.7" r="2.72"/><circle cx="312.6" cy="474.1" r="2.72"/><circle cx="314.6" cy="476.0" r="2.72"/><circle cx="314.4" cy="475.7" r="2.72"/><circle cx="315.6" cy="475.8" r="2.72"/><circle cx="315.3" cy="478.3" r="2.72"/><circle cx="316.6" cy="478.0" r="2.72"/><circle cx="318.9" cy="479.4" r="2.72"/><circle cx="318.9" cy="478.2" r="2.72"/><circle cx="319.6" cy="479.8" r="2.72"/><circle cx="321.8" cy="478.4" r="2.72"/><circle cx="322.7" cy="478.5" r="2.72"/><circle cx="323.1" cy="477.8" r="2.72"/><circle cx="325.0" cy="479.1" r="2.72"/><circle cx="324.4" cy="478.3" r="2.72"/><circle cx="325.0" cy="479.9" r="2.72"/><circle cx="325.1" cy="479.2" r="2.72"/><circle cx="326.9" cy="479.0" r="2.72"/><circle cx="327.8" cy="479.1" r="2.72"/><circle cx="328.0" cy="476.4" r="2.72"/><circle cx="328.4" cy="476.9" r="2.72"/><circle cx="328.2" cy="474.1" r="2.72"/><circle cx="328.1" cy="473.4" r="2.72"/><circle cx="329.3" cy="472.1" r="2.72"/><circle cx="328.4" cy="471.5" r="2.72"/><circle cx="329.0" cy="472.0" r="2.72"/><circle cx="306.4" cy="476.7" r="2.72"/><circle cx="306.0" cy="475.6" r="2.72"/><circle cx="307.7" cy="474.2" r="2.72"/><circle cx="306.7" cy="472.3" r="2.72"/><circle cx="309.0" cy="472.4" r="2.72"/><circle cx="308.3" cy="472.0" r="2.72"/><circle cx="309.0" cy="472.7" r="2.72"/><circle cx="310.9" cy="471.7" r="2.72"/><circle cx="312.1" cy="470.9" r="2.72"/><circle cx="312.9" cy="472.1" r="2.72"/><circle cx="312.7" cy="474.1" r="2.72"/><circle cx="312.9" cy="473.8" r="2.72"/><circle cx="315.0" cy="474.7" r="2.72"/><circle cx="314.5" cy="476.1" r="2.72"/><circle cx="315.0" cy="477.5" r="2.72"/><circle cx="317.7" cy="475.9" r="2.72"/><circle cx="317.2" cy="478.0" r="2.72"/><circle cx="317.7" cy="479.0" r="2.72"/><circle cx="318.6" cy="478.1" r="2.72"/><circle cx="319.2" cy="480.3" r="2.72"/><circle cx="319.2" cy="481.5" r="2.72"/><circle cx="320.7" cy="482.0" r="2.72"/><circle cx="320.6" cy="483.9" r="2.72"/><circle cx="321.7" cy="483.9" r="2.72"/><circle cx="323.1" cy="483.2" r="2.72"/><circle cx="323.2" cy="482.7" r="2.72"/><circle cx="323.4" cy="482.1" r="2.72"/><circle cx="323.7" cy="482.4" r="2.72"/><circle cx="325.1" cy="481.5" r="2.72"/><circle cx="324.4" cy="480.0" r="2.72"/><circle cx="325.1" cy="479.3" r="2.72"/><circle cx="326.5" cy="477.3" r="2.72"/><circle cx="327.2" cy="478.5" r="2.72"/><circle cx="327.0" cy="478.0" r="2.72"/><circle cx="330.2" cy="465.9" r="2.72"/><circle cx="329.5" cy="463.5" r="2.72"/><circle cx="329.5" cy="463.3" r="2.72"/><circle cx="330.9" cy="462.0" r="2.72"/><circle cx="331.0" cy="461.7" r="2.72"/><circle cx="331.0" cy="461.0" r="2.72"/><circle cx="332.6" cy="459.1" r="2.72"/><circle cx="333.6" cy="457.6" r="2.72"/><circle cx="332.6" cy="457.0" r="2.72"/><circle cx="332.9" cy="456.6" r="2.72"/><circle cx="335.3" cy="456.7" r="2.72"/><circle cx="335.5" cy="456.8" r="2.72"/><circle cx="336.0" cy="457.8" r="2.72"/><circle cx="336.8" cy="457.2" r="2.72"/><circle cx="337.3" cy="459.3" r="2.72"/><circle cx="339.4" cy="460.7" r="2.72"/><circle cx="337.9" cy="460.8" r="2.72"/><circle cx="339.1" cy="461.4" r="2.72"/><circle cx="340.8" cy="461.9" r="2.72"/><circle cx="340.0" cy="464.6" r="2.72"/><circle cx="341.4" cy="464.1" r="2.72"/><circle cx="340.3" cy="466.5" r="2.72"/><circle cx="339.6" cy="466.4" r="2.72"/><circle cx="341.9" cy="467.1" r="2.72"/><circle cx="341.2" cy="468.5" r="2.72"/><circle cx="341.8" cy="469.0" r="2.72"/><circle cx="341.4" cy="472.3" r="2.72"/><circle cx="343.6" cy="472.6" r="2.72"/><circle cx="342.9" cy="472.3" r="2.72"/><circle cx="344.1" cy="473.1" r="2.72"/><circle cx="344.4" cy="475.5" r="2.72"/><circle cx="344.7" cy="474.6" r="2.72"/><circle cx="347.0" cy="475.9" r="2.72"/><circle cx="345.9" cy="475.8" r="2.72"/><circle cx="348.2" cy="475.1" r="2.72"/><circle cx="348.5" cy="476.9" r="2.72"/><circle cx="350.8" cy="476.8" r="2.72"/><circle cx="351.9" cy="476.7" r="2.72"/><circle cx="351.7" cy="477.8" r="2.72"/><circle cx="352.8" cy="478.0" r="2.72"/><circle cx="353.4" cy="477.3" r="2.72"/><circle cx="354.3" cy="478.0" r="2.72"/><circle cx="355.2" cy="477.3" r="2.72"/><circle cx="356.4" cy="477.9" r="2.72"/><circle cx="357.7" cy="477.6" r="2.72"/><circle cx="360.3" cy="477.9" r="2.72"/><circle cx="360.9" cy="476.3" r="2.72"/><circle cx="360.4" cy="475.2" r="2.72"/><circle cx="361.6" cy="474.9" r="2.72"/><circle cx="361.1" cy="473.1" r="2.72"/><circle cx="361.2" cy="473.4" r="2.72"/><circle cx="362.1" cy="475.6" r="2.72"/><circle cx="363.1" cy="475.3" r="2.72"/><circle cx="362.5" cy="476.3" r="2.72"/><circle cx="364.0" cy="477.7" r="2.72"/><circle cx="363.0" cy="478.0" r="2.72"/><circle cx="365.6" cy="458.5" r="2.72"/><circle cx="365.8" cy="457.5" r="2.72"/><circle cx="364.2" cy="459.4" r="2.72"/><circle cx="363.3" cy="461.7" r="2.72"/><circle cx="363.7" cy="462.6" r="2.72"/><circle cx="364.0" cy="462.0" r="2.72"/><circle cx="363.7" cy="463.4" r="2.72"/><circle cx="363.4" cy="464.1" r="2.72"/><circle cx="365.5" cy="464.6" r="2.72"/><circle cx="365.7" cy="466.2" r="2.72"/><circle cx="367.1" cy="466.1" r="2.72"/><circle cx="368.3" cy="467.0" r="2.72"/><circle cx="369.1" cy="468.5" r="2.72"/><circle cx="368.5" cy="467.9" r="2.72"/><circle cx="369.5" cy="469.5" r="2.72"/><circle cx="370.6" cy="469.3" r="2.72"/><circle cx="372.9" cy="469.3" r="2.72"/><circle cx="372.3" cy="469.8" r="2.72"/><circle cx="373.1" cy="469.3" r="2.72"/><circle cx="373.8" cy="470.9" r="2.72"/><circle cx="376.2" cy="471.5" r="2.72"/><circle cx="378.1" cy="470.5" r="2.72"/><circle cx="378.5" cy="472.4" r="2.72"/><circle cx="378.5" cy="472.4" r="2.72"/><circle cx="380.6" cy="473.3" r="2.72"/><circle cx="381.9" cy="471.4" r="2.72"/><circle cx="381.7" cy="470.5" r="2.72"/><circle cx="381.5" cy="470.5" r="2.72"/><circle cx="380.9" cy="469.5" r="2.72"/><circle cx="381.8" cy="468.7" r="2.72"/><circle cx="381.9" cy="466.9" r="2.72"/><circle cx="382.4" cy="466.7" r="2.72"/><circle cx="382.2" cy="466.4" r="2.72"/><circle cx="383.0" cy="463.9" r="2.72"/><circle cx="384.0" cy="463.8" r="2.72"/><circle cx="384.3" cy="463.5" r="2.72"/><circle cx="386.5" cy="463.1" r="2.72"/><circle cx="387.2" cy="462.1" r="2.72"/><circle cx="387.4" cy="463.6" r="2.72"/><circle cx="387.4" cy="464.5" r="2.72"/><circle cx="388.2" cy="465.5" r="2.72"/><circle cx="390.2" cy="465.9" r="2.72"/><circle cx="390.7" cy="465.5" r="2.72"/><circle cx="390.9" cy="465.6" r="2.72"/><circle cx="393.9" cy="466.5" r="2.72"/><circle cx="393.4" cy="467.4" r="2.72"/><circle cx="393.7" cy="467.6" r="2.72"/><circle cx="395.2" cy="469.7" r="2.72"/><circle cx="395.0" cy="469.6" r="2.72"/><circle cx="397.1" cy="470.7" r="2.72"/><circle cx="397.2" cy="470.5" r="2.72"/><circle cx="397.7" cy="469.9" r="2.72"/><circle cx="398.5" cy="470.7" r="2.72"/><circle cx="400.9" cy="469.7" r="2.72"/><circle cx="401.9" cy="469.2" r="2.72"/><circle cx="400.9" cy="470.8" r="2.72"/><circle cx="402.1" cy="471.0" r="2.72"/><circle cx="404.1" cy="471.2" r="2.72"/><circle cx="402.2" cy="472.2" r="2.72"/><circle cx="402.9" cy="473.3" r="2.72"/><circle cx="400.9" cy="475.1" r="2.72"/><circle cx="401.7" cy="475.4" r="2.72"/><circle cx="402.5" cy="477.2" r="2.72"/><circle cx="403.4" cy="477.9" r="2.72"/><circle cx="404.4" cy="479.1" r="2.72"/><circle cx="406.1" cy="478.6" r="2.72"/><circle cx="405.2" cy="480.7" r="2.72"/><circle cx="405.6" cy="481.1" r="2.72"/><circle cx="406.9" cy="481.8" r="2.72"/><circle cx="408.1" cy="482.8" r="2.72"/><circle cx="406.9" cy="482.9" r="2.72"/><circle cx="408.4" cy="483.3" r="2.72"/><circle cx="408.9" cy="483.1" r="2.72"/><circle cx="410.6" cy="484.1" r="2.72"/><circle cx="410.4" cy="483.8" r="2.72"/><circle cx="411.6" cy="484.0" r="2.72"/><circle cx="413.0" cy="484.1" r="2.72"/><circle cx="412.9" cy="484.2" r="2.72"/><circle cx="414.0" cy="485.8" r="2.72"/><circle cx="415.1" cy="484.9" r="2.72"/><circle cx="417.4" cy="484.5" r="2.72"/><circle cx="416.7" cy="484.8" r="2.72"/><circle cx="419.2" cy="482.1" r="2.72"/><circle cx="418.6" cy="482.5" r="2.72"/><circle cx="420.7" cy="481.7" r="2.72"/><circle cx="421.5" cy="481.2" r="2.72"/><circle cx="422.5" cy="481.4" r="2.72"/><circle cx="422.6" cy="482.6" r="2.72"/><circle cx="424.8" cy="482.8" r="2.72"/><circle cx="425.2" cy="481.8" r="2.72"/><circle cx="426.5" cy="482.3" r="2.72"/><circle cx="427.8" cy="482.7" r="2.72"/><circle cx="427.1" cy="481.7" r="2.72"/><circle cx="429.4" cy="481.3" r="2.72"/><circle cx="429.2" cy="480.8" r="2.72"/><circle cx="431.2" cy="483.0" r="2.72"/><circle cx="433.1" cy="481.1" r="2.72"/><circle cx="433.5" cy="481.9" r="2.72"/><circle cx="434.3" cy="482.1" r="2.72"/><circle cx="436.0" cy="483.8" r="2.72"/><circle cx="434.9" cy="483.5" r="2.72"/><circle cx="435.9" cy="482.4" r="2.72"/><circle cx="437.1" cy="484.6" r="2.72"/><circle cx="439.7" cy="483.8" r="2.72"/><circle cx="438.9" cy="484.2" r="2.72"/><circle cx="440.1" cy="486.0" r="2.72"/><circle cx="440.5" cy="486.3" r="2.72"/><circle cx="442.3" cy="488.3" r="2.72"/><circle cx="441.8" cy="488.0" r="2.72"/><circle cx="443.3" cy="489.6" r="2.72"/><circle cx="444.7" cy="489.4" r="2.72"/><circle cx="444.5" cy="490.4" r="2.72"/><circle cx="445.2" cy="490.2" r="2.72"/><circle cx="444.2" cy="491.1" r="2.72"/><circle cx="446.3" cy="492.1" r="2.72"/><circle cx="445.5" cy="492.7" r="2.72"/><circle cx="445.4" cy="493.5" r="2.72"/><circle cx="446.2" cy="494.8" r="2.72"/><circle cx="446.7" cy="496.0" r="2.72"/><circle cx="446.0" cy="497.3" r="2.72"/><circle cx="446.7" cy="497.4" r="2.72"/><circle cx="446.9" cy="497.8" r="2.72"/><circle cx="450.0" cy="498.7" r="2.72"/><circle cx="449.0" cy="498.2" r="2.72"/><circle cx="450.5" cy="499.7" r="2.72"/><circle cx="450.3" cy="498.6" r="2.72"/><circle cx="451.5" cy="496.6" r="2.72"/><circle cx="452.7" cy="495.8" r="2.72"/><circle cx="451.6" cy="495.2" r="2.72"/><circle cx="453.7" cy="494.6" r="2.72"/><circle cx="453.5" cy="495.1" r="2.72"/><circle cx="455.4" cy="495.8" r="2.72"/><circle cx="454.9" cy="496.6" r="2.72"/><circle cx="456.1" cy="496.0" r="2.72"/><circle cx="454.9" cy="496.2" r="2.72"/><circle cx="455.3" cy="495.5" r="2.72"/><circle cx="456.1" cy="496.1" r="2.72"/><circle cx="456.1" cy="494.3" r="2.72"/><circle cx="455.5" cy="492.3" r="2.72"/><circle cx="457.9" cy="490.7" r="2.72"/><circle cx="457.1" cy="491.7" r="2.72"/><circle cx="458.1" cy="490.4" r="2.72"/><circle cx="457.8" cy="489.7" r="2.72"/><circle cx="459.4" cy="489.0" r="2.72"/><circle cx="460.5" cy="486.6" r="2.72"/><circle cx="461.2" cy="486.5" r="2.72"/><circle cx="461.5" cy="485.4" r="2.72"/><circle cx="462.8" cy="484.2" r="2.72"/><circle cx="462.8" cy="483.9" r="2.72"/><circle cx="463.2" cy="483.5" r="2.72"/><circle cx="464.7" cy="484.0" r="2.72"/><circle cx="464.7" cy="483.3" r="2.72"/><circle cx="465.4" cy="482.7" r="2.72"/><circle cx="467.3" cy="483.6" r="2.72"/><circle cx="466.0" cy="484.6" r="2.72"/><circle cx="468.3" cy="485.0" r="2.72"/><circle cx="469.0" cy="486.6" r="2.72"/><circle cx="469.7" cy="486.5" r="2.72"/><circle cx="469.1" cy="487.1" r="2.72"/><circle cx="470.4" cy="488.5" r="2.72"/><circle cx="470.3" cy="489.2" r="2.72"/><circle cx="472.0" cy="489.2" r="2.72"/><circle cx="473.1" cy="491.1" r="2.72"/><circle cx="473.3" cy="491.1" r="2.72"/><circle cx="474.6" cy="490.8" r="2.72"/><circle cx="475.1" cy="491.2" r="2.72"/><circle cx="476.6" cy="490.6" r="2.72"/><circle cx="476.8" cy="488.5" r="2.72"/><circle cx="478.5" cy="487.2" r="2.72"/><circle cx="477.8" cy="487.3" r="2.72"/><circle cx="480.1" cy="485.6" r="2.72"/><circle cx="479.0" cy="485.5" r="2.72"/><circle cx="482.0" cy="485.0" r="2.72"/><circle cx="482.3" cy="485.6" r="2.72"/><circle cx="483.3" cy="485.3" r="2.72"/><circle cx="484.3" cy="487.2" r="2.72"/><circle cx="485.9" cy="486.9" r="2.72"/><circle cx="486.0" cy="487.0" r="2.72"/><circle cx="486.1" cy="487.8" r="2.72"/><circle cx="488.5" cy="486.7" r="2.72"/><circle cx="489.5" cy="486.3" r="2.72"/><circle cx="489.8" cy="485.5" r="2.72"/><circle cx="491.2" cy="486.2" r="2.72"/><circle cx="492.1" cy="485.2" r="2.72"/><circle cx="493.4" cy="486.8" r="2.72"/><circle cx="494.2" cy="487.2" r="2.72"/><circle cx="495.6" cy="485.6" r="2.72"/><circle cx="494.9" cy="486.7" r="2.72"/><circle cx="496.0" cy="484.1" r="2.72"/><circle cx="496.6" cy="485.2" r="2.72"/><circle cx="496.6" cy="484.9" r="2.72"/><circle cx="497.0" cy="485.5" r="2.72"/><circle cx="498.9" cy="484.1" r="2.72"/><circle cx="500.8" cy="485.4" r="2.72"/><circle cx="502.1" cy="485.9" r="2.72"/><circle cx="502.7" cy="485.2" r="2.72"/><circle cx="504.2" cy="484.0" r="2.72"/><circle cx="504.9" cy="485.5" r="2.72"/><circle cx="504.4" cy="485.5" r="2.72"/><circle cx="506.0" cy="484.5" r="2.72"/><circle cx="508.0" cy="483.3" r="2.72"/><circle cx="507.5" cy="484.3" r="2.72"/><circle cx="507.9" cy="484.7" r="2.72"/><circle cx="510.2" cy="485.3" r="2.72"/><circle cx="509.4" cy="486.7" r="2.72"/><circle cx="510.0" cy="486.0" r="2.72"/><circle cx="510.9" cy="486.6" r="2.72"/><circle cx="510.4" cy="486.4" r="2.72"/><circle cx="511.4" cy="483.8" r="2.72"/><circle cx="510.8" cy="482.8" r="2.72"/><circle cx="510.4" cy="482.4" r="2.72"/><circle cx="512.9" cy="482.5" r="2.72"/><circle cx="511.6" cy="480.0" r="2.72"/><circle cx="512.7" cy="480.8" r="2.72"/><circle cx="513.9" cy="480.0" r="2.72"/><circle cx="513.2" cy="479.3" r="2.72"/><circle cx="514.1" cy="477.7" r="2.72"/><circle cx="516.3" cy="477.2" r="2.72"/><circle cx="515.3" cy="476.4" r="2.72"/><circle cx="516.6" cy="474.2" r="2.72"/><circle cx="517.1" cy="474.4" r="2.72"/><circle cx="518.6" cy="473.9" r="2.72"/><circle cx="519.2" cy="474.5" r="2.72"/><circle cx="519.0" cy="472.6" r="2.72"/><circle cx="521.0" cy="472.9" r="2.72"/><circle cx="520.4" cy="471.6" r="2.72"/><circle cx="523.1" cy="472.3" r="2.72"/><circle cx="522.5" cy="470.5" r="2.72"/><circle cx="524.7" cy="471.0" r="2.72"/><circle cx="524.6" cy="469.7" r="2.72"/><circle cx="524.0" cy="470.0" r="2.72"/><circle cx="509.5" cy="468.8" r="2.72"/><circle cx="512.2" cy="478.3" r="2.72"/><circle cx="513.0" cy="478.0" r="2.72"/><circle cx="515.8" cy="472.8" r="2.72"/><circle cx="518.8" cy="473.9" r="2.72"/><circle cx="519.0" cy="474.0" r="2.72"/><circle cx="522.0" cy="475.1" r="2.72"/><circle cx="521.8" cy="473.9" r="2.72"/><circle cx="521.8" cy="472.8" r="2.72"/><circle cx="522.3" cy="472.6" r="2.72"/><circle cx="522.6" cy="471.5" r="2.72"/><circle cx="523.9" cy="469.4" r="2.72"/><circle cx="524.9" cy="468.2" r="2.72"/><circle cx="524.9" cy="467.7" r="2.72"/><circle cx="524.5" cy="465.6" r="2.72"/><circle cx="524.8" cy="465.5" r="2.72"/><circle cx="525.9" cy="466.2" r="2.72"/><circle cx="526.5" cy="465.5" r="2.72"/><circle cx="528.4" cy="464.4" r="2.72"/><circle cx="528.8" cy="464.0" r="2.72"/><circle cx="530.9" cy="464.2" r="2.72"/><circle cx="530.8" cy="464.6" r="2.72"/><circle cx="532.6" cy="466.2" r="2.72"/><circle cx="532.9" cy="466.1" r="2.72"/><circle cx="532.5" cy="467.5" r="2.72"/><circle cx="533.0" cy="466.7" r="2.72"/><circle cx="534.0" cy="467.0" r="2.72"/><circle cx="533.7" cy="462.5" r="2.72"/><circle cx="534.5" cy="460.9" r="2.72"/><circle cx="535.3" cy="461.3" r="2.72"/><circle cx="533.4" cy="459.4" r="2.72"/><circle cx="534.7" cy="457.6" r="2.72"/><circle cx="534.9" cy="456.6" r="2.72"/><circle cx="535.7" cy="456.1" r="2.72"/><circle cx="536.7" cy="456.1" r="2.72"/><circle cx="537.2" cy="453.7" r="2.72"/><circle cx="537.2" cy="453.4" r="2.72"/><circle cx="537.4" cy="453.3" r="2.72"/><circle cx="536.4" cy="450.9" r="2.72"/><circle cx="537.8" cy="450.4" r="2.72"/><circle cx="537.9" cy="450.3" r="2.72"/><circle cx="538.4" cy="447.8" r="2.72"/><circle cx="538.9" cy="446.9" r="2.72"/><circle cx="541.0" cy="445.4" r="2.72"/><circle cx="540.2" cy="446.4" r="2.72"/><circle cx="542.0" cy="446.7" r="2.72"/><circle cx="541.9" cy="447.4" r="2.72"/><circle cx="543.8" cy="448.0" r="2.72"/><circle cx="543.1" cy="447.9" r="2.72"/><circle cx="543.6" cy="449.5" r="2.72"/><circle cx="546.6" cy="450.3" r="2.72"/><circle cx="545.2" cy="449.5" r="2.72"/><circle cx="547.1" cy="450.1" r="2.72"/><circle cx="546.7" cy="450.2" r="2.72"/><circle cx="547.7" cy="448.6" r="2.72"/><circle cx="547.8" cy="447.8" r="2.72"/><circle cx="548.1" cy="446.0" r="2.72"/><circle cx="549.0" cy="447.0" r="2.72"/><circle cx="539.0" cy="440.5" r="2.72"/><circle cx="542.7" cy="437.4" r="2.72"/><circle cx="542.0" cy="438.0" r="2.72"/><circle cx="550.8" cy="426.9" r="2.72"/><circle cx="550.8" cy="427.3" r="2.72"/><circle cx="552.1" cy="425.9" r="2.72"/><circle cx="553.0" cy="424.3" r="2.72"/><circle cx="553.1" cy="423.4" r="2.72"/><circle cx="553.5" cy="423.1" r="2.72"/><circle cx="552.2" cy="422.1" r="2.72"/><circle cx="553.4" cy="421.8" r="2.72"/><circle cx="552.5" cy="418.6" r="2.72"/><circle cx="552.2" cy="419.8" r="2.72"/><circle cx="554.4" cy="418.8" r="2.72"/><circle cx="554.1" cy="418.3" r="2.72"/><circle cx="554.9" cy="417.1" r="2.72"/><circle cx="556.3" cy="418.6" r="2.72"/><circle cx="557.8" cy="417.8" r="2.72"/><circle cx="557.2" cy="416.2" r="2.72"/><circle cx="558.0" cy="415.4" r="2.72"/><circle cx="559.1" cy="416.7" r="2.72"/><circle cx="560.7" cy="415.5" r="2.72"/><circle cx="562.4" cy="416.9" r="2.72"/><circle cx="563.5" cy="416.9" r="2.72"/><circle cx="562.9" cy="418.8" r="2.72"/><circle cx="562.9" cy="418.5" r="2.72"/><circle cx="563.9" cy="419.5" r="2.72"/><circle cx="562.7" cy="420.8" r="2.72"/><circle cx="562.4" cy="421.2" r="2.72"/><circle cx="561.5" cy="422.0" r="2.72"/><circle cx="559.7" cy="423.4" r="2.72"/><circle cx="558.7" cy="423.1" r="2.72"/><circle cx="558.8" cy="423.0" r="2.72"/><circle cx="557.1" cy="422.3" r="2.72"/><circle cx="556.7" cy="422.6" r="2.72"/><circle cx="556.5" cy="421.9" r="2.72"/><circle cx="556.7" cy="421.7" r="2.72"/><circle cx="554.5" cy="420.6" r="2.72"/><circle cx="556.4" cy="418.5" r="2.72"/><circle cx="555.2" cy="419.7" r="2.72"/><circle cx="554.3" cy="417.7" r="2.72"/><circle cx="554.1" cy="416.0" r="2.72"/><circle cx="554.4" cy="415.8" r="2.72"/><circle cx="553.6" cy="415.0" r="2.72"/><circle cx="554.0" cy="415.0" r="2.72"/><circle cx="565.0" cy="404.6" r="2.72"/><circle cx="563.8" cy="403.8" r="2.72"/><circle cx="564.0" cy="405.3" r="2.72"/><circle cx="565.0" cy="406.9" r="2.72"/><circle cx="564.9" cy="408.1" r="2.72"/><circle cx="563.4" cy="409.8" r="2.72"/><circle cx="563.0" cy="411.2" r="2.72"/><circle cx="565.3" cy="409.6" r="2.72"/><circle cx="564.8" cy="410.1" r="2.72"/><circle cx="566.8" cy="408.8" r="2.72"/><circle cx="565.9" cy="408.6" r="2.72"/><circle cx="567.1" cy="408.3" r="2.72"/><circle cx="569.4" cy="409.4" r="2.72"/><circle cx="570.3" cy="407.9" r="2.72"/><circle cx="571.1" cy="410.5" r="2.72"/><circle cx="569.9" cy="409.9" r="2.72"/><circle cx="569.8" cy="412.0" r="2.72"/><circle cx="569.4" cy="414.2" r="2.72"/><circle cx="569.0" cy="413.0" r="2.72"/><circle cx="571.0" cy="429.0" r="2.72"/><circle cx="571.1" cy="430.4" r="2.72"/><circle cx="571.6" cy="431.1" r="2.72"/><circle cx="571.6" cy="432.2" r="2.72"/><circle cx="571.5" cy="432.8" r="2.72"/><circle cx="573.6" cy="433.0" r="2.72"/><circle cx="572.9" cy="435.7" r="2.72"/><circle cx="574.9" cy="435.7" r="2.72"/><circle cx="574.1" cy="435.1" r="2.72"/><circle cx="575.0" cy="436.0" r="2.72"/><circle cx="573.5" cy="453.1" r="2.72"/><circle cx="574.6" cy="453.6" r="2.72"/><circle cx="574.3" cy="453.1" r="2.72"/><circle cx="575.7" cy="455.0" r="2.72"/><circle cx="575.4" cy="456.0" r="2.72"/><circle cx="576.9" cy="454.9" r="2.72"/><circle cx="577.4" cy="456.5" r="2.72"/><circle cx="578.6" cy="458.6" r="2.72"/><circle cx="578.8" cy="458.9" r="2.72"/><circle cx="579.1" cy="459.9" r="2.72"/><circle cx="579.1" cy="460.6" r="2.72"/><circle cx="579.8" cy="461.0" r="2.72"/><circle cx="580.5" cy="461.2" r="2.72"/><circle cx="581.1" cy="462.0" r="2.72"/><circle cx="582.7" cy="463.2" r="2.72"/><circle cx="582.7" cy="464.2" r="2.72"/><circle cx="584.4" cy="464.7" r="2.72"/><circle cx="584.3" cy="466.1" r="2.72"/><circle cx="585.7" cy="466.7" r="2.72"/><circle cx="585.5" cy="467.4" r="2.72"/><circle cx="585.1" cy="469.8" r="2.72"/><circle cx="586.2" cy="469.4" r="2.72"/><circle cx="586.0" cy="470.0" r="2.72"/><circle cx="581.0" cy="462.8" r="2.72"/><circle cx="582.1" cy="463.3" r="2.72"/><circle cx="582.7" cy="464.1" r="2.72"/><circle cx="583.6" cy="466.1" r="2.72"/><circle cx="585.0" cy="465.9" r="2.72"/><circle cx="584.5" cy="466.2" r="2.72"/><circle cx="585.7" cy="466.8" r="2.72"/><circle cx="585.2" cy="469.3" r="2.72"/><circle cx="584.9" cy="469.5" r="2.72"/><circle cx="586.0" cy="469.0" r="2.72"/><circle cx="585.2" cy="458.1" r="2.72"/><circle cx="584.9" cy="456.6" r="2.72"/><circle cx="586.8" cy="457.3" r="2.72"/><circle cx="587.0" cy="454.8" r="2.72"/><circle cx="587.6" cy="454.1" r="2.72"/><circle cx="586.7" cy="453.9" r="2.72"/><circle cx="588.3" cy="452.0" r="2.72"/><circle cx="589.2" cy="452.5" r="2.72"/><circle cx="590.0" cy="453.0" r="2.72"/><circle cx="590.2" cy="452.0" r="2.72"/><circle cx="591.4" cy="453.9" r="2.72"/><circle cx="590.3" cy="455.6" r="2.72"/><circle cx="591.5" cy="455.4" r="2.72"/><circle cx="590.2" cy="456.0" r="2.72"/><circle cx="590.4" cy="457.9" r="2.72"/><circle cx="589.4" cy="459.0" r="2.72"/><circle cx="589.1" cy="460.0" r="2.72"/><circle cx="589.9" cy="459.2" r="2.72"/><circle cx="590.6" cy="459.2" r="2.72"/><circle cx="592.8" cy="457.5" r="2.72"/><circle cx="593.7" cy="458.3" r="2.72"/><circle cx="594.0" cy="456.8" r="2.72"/><circle cx="595.0" cy="456.2" r="2.72"/><circle cx="595.4" cy="457.0" r="2.72"/><circle cx="596.1" cy="455.9" r="2.72"/><circle cx="594.6" cy="458.5" r="2.72"/><circle cx="595.5" cy="459.4" r="2.72"/><circle cx="595.2" cy="460.0" r="2.72"/><circle cx="595.6" cy="461.8" r="2.72"/><circle cx="597.1" cy="462.0" r="2.72"/><circle cx="596.0" cy="462.0" r="2.72"/><circle cx="596.2" cy="459.6" r="2.72"/><circle cx="595.8" cy="460.7" r="2.72"/><circle cx="596.2" cy="460.1" r="2.72"/><circle cx="598.2" cy="457.3" r="2.72"/><circle cx="599.6" cy="456.6" r="2.72"/><circle cx="599.7" cy="456.0" r="2.72"/><circle cx="601.5" cy="455.9" r="2.72"/><circle cx="601.9" cy="454.9" r="2.72"/><circle cx="602.5" cy="454.9" r="2.72"/><circle cx="601.9" cy="456.5" r="2.72"/><circle cx="605.2" cy="457.2" r="2.72"/><circle cx="605.9" cy="457.7" r="2.72"/><circle cx="606.1" cy="455.9" r="2.72"/><circle cx="607.1" cy="455.9" r="2.72"/><circle cx="608.1" cy="455.9" r="2.72"/><circle cx="609.0" cy="455.3" r="2.72"/><circle cx="610.6" cy="455.3" r="2.72"/><circle cx="611.1" cy="454.0" r="2.72"/><circle cx="612.0" cy="455.1" r="2.72"/><circle cx="613.7" cy="455.6" r="2.72"/><circle cx="612.1" cy="455.7" r="2.72"/><circle cx="613.1" cy="457.6" r="2.72"/><circle cx="615.1" cy="459.1" r="2.72"/><circle cx="615.6" cy="459.8" r="2.72"/><circle cx="615.9" cy="460.7" r="2.72"/><circle cx="614.5" cy="460.5" r="2.72"/><circle cx="616.5" cy="461.8" r="2.72"/><circle cx="617.3" cy="462.3" r="2.72"/><circle cx="619.0" cy="461.7" r="2.72"/><circle cx="619.0" cy="464.3" r="2.72"/><circle cx="618.9" cy="462.7" r="2.72"/><circle cx="621.9" cy="465.1" r="2.72"/><circle cx="620.9" cy="463.2" r="2.72"/><circle cx="623.8" cy="465.1" r="2.72"/><circle cx="624.0" cy="465.1" r="2.72"/><circle cx="625.6" cy="465.7" r="2.72"/><circle cx="624.8" cy="463.9" r="2.72"/><circle cx="627.8" cy="465.8" r="2.72"/><circle cx="628.9" cy="464.1" r="2.72"/><circle cx="628.6" cy="463.6" r="2.72"/><circle cx="628.9" cy="464.2" r="2.72"/><circle cx="630.5" cy="463.2" r="2.72"/><circle cx="632.1" cy="462.6" r="2.72"/><circle cx="633.0" cy="463.3" r="2.72"/><circle cx="632.4" cy="465.1" r="2.72"/><circle cx="632.7" cy="464.2" r="2.72"/><circle cx="633.4" cy="465.9" r="2.72"/><circle cx="635.2" cy="466.4" r="2.72"/><circle cx="634.5" cy="467.9" r="2.72"/><circle cx="635.1" cy="468.5" r="2.72"/><circle cx="635.7" cy="470.2" r="2.72"/><circle cx="636.2" cy="469.4" r="2.72"/><circle cx="637.3" cy="470.3" r="2.72"/><circle cx="639.1" cy="471.7" r="2.72"/><circle cx="640.0" cy="472.0" r="2.72"/><circle cx="639.2" cy="473.1" r="2.72"/><circle cx="640.4" cy="472.3" r="2.72"/><circle cx="641.8" cy="474.7" r="2.72"/><circle cx="642.8" cy="473.7" r="2.72"/><circle cx="645.1" cy="475.6" r="2.72"/><circle cx="644.7" cy="474.1" r="2.72"/><circle cx="646.6" cy="476.3" r="2.72"/><circle cx="646.3" cy="476.9" r="2.72"/><circle cx="647.1" cy="476.5" r="2.72"/><circle cx="648.2" cy="478.6" r="2.72"/><circle cx="648.2" cy="479.7" r="2.72"/><circle cx="647.4" cy="480.0" r="2.72"/><circle cx="648.4" cy="480.1" r="2.72"/><circle cx="649.8" cy="481.5" r="2.72"/><circle cx="648.2" cy="484.2" r="2.72"/><circle cx="650.1" cy="485.0" r="2.72"/><circle cx="649.0" cy="484.0" r="2.72"/><circle cx="646.6" cy="475.0" r="2.72"/><circle cx="646.6" cy="475.0" r="2.72"/><circle cx="649.1" cy="474.3" r="2.72"/><circle cx="647.9" cy="476.3" r="2.72"/><circle cx="650.4" cy="477.4" r="2.72"/><circle cx="651.1" cy="477.9" r="2.72"/><circle cx="649.9" cy="477.8" r="2.72"/><circle cx="649.8" cy="480.6" r="2.72"/><circle cx="649.4" cy="479.8" r="2.72"/><circle cx="650.1" cy="480.4" r="2.72"/><circle cx="650.1" cy="481.8" r="2.72"/><circle cx="649.7" cy="483.7" r="2.72"/><circle cx="650.8" cy="484.7" r="2.72"/><circle cx="651.4" cy="485.6" r="2.72"/><circle cx="651.9" cy="485.3" r="2.72"/><circle cx="650.3" cy="486.0" r="2.72"/><circle cx="650.9" cy="488.9" r="2.72"/><circle cx="652.9" cy="489.3" r="2.72"/><circle cx="651.6" cy="489.4" r="2.72"/><circle cx="653.2" cy="489.5" r="2.72"/><circle cx="654.4" cy="490.8" r="2.72"/><circle cx="654.4" cy="489.1" r="2.72"/><circle cx="656.1" cy="487.7" r="2.72"/><circle cx="655.3" cy="488.1" r="2.72"/><circle cx="657.9" cy="485.2" r="2.72"/><circle cx="657.9" cy="485.5" r="2.72"/><circle cx="656.9" cy="484.2" r="2.72"/><circle cx="657.9" cy="484.9" r="2.72"/><circle cx="658.7" cy="482.4" r="2.72"/><circle cx="659.6" cy="483.5" r="2.72"/><circle cx="661.0" cy="482.4" r="2.72"/><circle cx="661.7" cy="480.5" r="2.72"/><circle cx="661.3" cy="480.0" r="2.72"/><circle cx="662.1" cy="479.2" r="2.72"/><circle cx="664.3" cy="478.7" r="2.72"/><circle cx="664.7" cy="478.6" r="2.72"/><circle cx="665.1" cy="477.2" r="2.72"/><circle cx="667.2" cy="477.0" r="2.72"/><circle cx="666.8" cy="476.1" r="2.72"/><circle cx="667.5" cy="474.6" r="2.72"/><circle cx="669.0" cy="473.3" r="2.72"/><circle cx="669.5" cy="473.7" r="2.72"/><circle cx="669.9" cy="471.2" r="2.72"/><circle cx="669.7" cy="472.4" r="2.72"/><circle cx="670.0" cy="469.7" r="2.72"/><circle cx="671.8" cy="469.4" r="2.72"/><circle cx="672.2" cy="469.2" r="2.72"/><circle cx="673.6" cy="470.1" r="2.72"/><circle cx="672.0" cy="472.2" r="2.72"/><circle cx="673.1" cy="473.1" r="2.72"/><circle cx="674.0" cy="475.0" r="2.72"/><circle cx="674.7" cy="474.4" r="2.72"/><circle cx="674.2" cy="475.2" r="2.72"/><circle cx="675.7" cy="475.8" r="2.72"/><circle cx="677.3" cy="475.9" r="2.72"/><circle cx="677.1" cy="476.7" r="2.72"/><circle cx="679.0" cy="477.7" r="2.72"/><circle cx="681.1" cy="476.5" r="2.72"/><circle cx="680.1" cy="475.5" r="2.72"/><circle cx="681.2" cy="475.1" r="2.72"/><circle cx="681.5" cy="475.5" r="2.72"/><circle cx="680.3" cy="474.7" r="2.72"/><circle cx="681.1" cy="472.5" r="2.72"/><circle cx="681.4" cy="472.6" r="2.72"/><circle cx="681.5" cy="470.5" r="2.72"/><circle cx="681.2" cy="470.5" r="2.72"/><circle cx="682.0" cy="468.6" r="2.72"/><circle cx="682.0" cy="467.4" r="2.72"/><circle cx="684.2" cy="468.3" r="2.72"/><circle cx="685.4" cy="468.3" r="2.72"/><circle cx="685.4" cy="467.7" r="2.72"/><circle cx="686.6" cy="467.3" r="2.72"/><circle cx="687.9" cy="465.4" r="2.72"/><circle cx="688.8" cy="465.5" r="2.72"/><circle cx="688.0" cy="466.0" r="2.72"/><circle cx="691.4" cy="447.0" r="2.72"/><circle cx="690.8" cy="446.7" r="2.72"/><circle cx="691.5" cy="448.3" r="2.72"/><circle cx="692.1" cy="449.7" r="2.72"/><circle cx="692.8" cy="450.3" r="2.72"/><circle cx="690.7" cy="451.5" r="2.72"/><circle cx="690.9" cy="453.3" r="2.72"/><circle cx="692.9" cy="452.5" r="2.72"/><circle cx="691.8" cy="454.5" r="2.72"/><circle cx="693.9" cy="456.0" r="2.72"/><circle cx="694.5" cy="454.5" r="2.72"/><circle cx="695.5" cy="454.9" r="2.72"/><circle cx="696.7" cy="457.1" r="2.72"/><circle cx="697.3" cy="457.7" r="2.72"/><circle cx="697.6" cy="458.3" r="2.72"/><circle cx="698.3" cy="458.0" r="2.72"/><circle cx="698.0" cy="458.5" r="2.72"/><circle cx="697.4" cy="459.1" r="2.72"/><circle cx="699.4" cy="460.5" r="2.72"/><circle cx="699.2" cy="463.0" r="2.72"/><circle cx="699.4" cy="463.3" r="2.72"/><circle cx="698.6" cy="463.5" r="2.72"/><circle cx="699.0" cy="464.0" r="2.72"/><circle cx="697.2" cy="458.4" r="2.72"/><circle cx="698.7" cy="458.5" r="2.72"/><circle cx="698.3" cy="457.7" r="2.72"/><circle cx="700.2" cy="455.3" r="2.72"/><circle cx="701.1" cy="455.3" r="2.72"/><circle cx="701.8" cy="455.2" r="2.72"/><circle cx="701.2" cy="453.5" r="2.72"/><circle cx="702.6" cy="453.6" r="2.72"/><circle cx="702.3" cy="454.0" r="2.72"/><circle cx="704.4" cy="452.6" r="2.72"/><circle cx="705.6" cy="451.4" r="2.72"/><circle cx="704.9" cy="451.3" r="2.72"/><circle cx="705.4" cy="449.7" r="2.72"/><circle cx="705.4" cy="447.9" r="2.72"/><circle cx="706.4" cy="448.0" r="2.72"/><circle cx="708.1" cy="447.3" r="2.72"/><circle cx="707.2" cy="445.7" r="2.72"/><circle cx="707.1" cy="444.7" r="2.72"/><circle cx="709.1" cy="442.9" r="2.72"/><circle cx="707.8" cy="443.4" r="2.72"/><circle cx="708.1" cy="442.2" r="2.72"/><circle cx="707.0" cy="442.5" r="2.72"/><circle cx="707.0" cy="440.4" r="2.72"/><circle cx="706.0" cy="441.0" r="2.72"/><circle cx="707.1" cy="448.2" r="2.72"/><circle cx="707.4" cy="446.8" r="2.72"/><circle cx="708.4" cy="447.3" r="2.72"/><circle cx="707.5" cy="449.4" r="2.72"/><circle cx="708.3" cy="450.8" r="2.72"/><circle cx="710.0" cy="450.8" r="2.72"/><circle cx="710.6" cy="452.4" r="2.72"/><circle cx="711.3" cy="452.9" r="2.72"/><circle cx="711.5" cy="452.9" r="2.72"/><circle cx="712.4" cy="455.6" r="2.72"/><circle cx="713.9" cy="453.9" r="2.72"/><circle cx="713.0" cy="455.0" r="2.72"/><circle cx="711.0" cy="453.4" r="2.72"/><circle cx="713.0" cy="454.4" r="2.72"/><circle cx="712.4" cy="455.3" r="2.72"/><circle cx="714.4" cy="456.9" r="2.72"/><circle cx="714.8" cy="457.4" r="2.72"/><circle cx="716.5" cy="457.8" r="2.72"/><circle cx="716.1" cy="458.3" r="2.72"/><circle cx="717.1" cy="456.9" r="2.72"/><circle cx="718.0" cy="458.0" r="2.72"/><circle cx="715.9" cy="451.8" r="2.72"/><circle cx="715.3" cy="452.2" r="2.72"/><circle cx="716.7" cy="450.9" r="2.72"/><circle cx="718.5" cy="451.8" r="2.72"/><circle cx="718.0" cy="450.3" r="2.72"/><circle cx="718.2" cy="450.2" r="2.72"/><circle cx="718.4" cy="447.7" r="2.72"/><circle cx="719.3" cy="448.2" r="2.72"/><circle cx="720.5" cy="446.3" r="2.72"/><circle cx="720.8" cy="446.9" r="2.72"/><circle cx="721.6" cy="445.6" r="2.72"/><circle cx="723.6" cy="444.4" r="2.72"/><circle cx="723.7" cy="444.8" r="2.72"/><circle cx="724.3" cy="445.1" r="2.72"/><circle cx="725.1" cy="446.0" r="2.72"/><circle cx="724.7" cy="447.8" r="2.72"/><circle cx="725.5" cy="448.1" r="2.72"/><circle cx="726.9" cy="449.1" r="2.72"/><circle cx="726.0" cy="451.2" r="2.72"/><circle cx="727.8" cy="451.9" r="2.72"/><circle cx="726.8" cy="452.4" r="2.72"/><circle cx="728.1" cy="452.7" r="2.72"/><circle cx="728.6" cy="455.2" r="2.72"/><circle cx="728.9" cy="455.4" r="2.72"/><circle cx="728.8" cy="456.4" r="2.72"/><circle cx="728.7" cy="457.6" r="2.72"/><circle cx="729.8" cy="459.2" r="2.72"/><circle cx="729.7" cy="459.6" r="2.72"/><circle cx="729.4" cy="459.9" r="2.72"/><circle cx="731.6" cy="460.4" r="2.72"/><circle cx="732.0" cy="461.2" r="2.72"/><circle cx="732.3" cy="463.9" r="2.72"/><circle cx="732.6" cy="464.4" r="2.72"/><circle cx="732.9" cy="464.2" r="2.72"/><circle cx="735.5" cy="465.4" r="2.72"/><circle cx="735.0" cy="465.4" r="2.72"/><circle cx="736.5" cy="466.6" r="2.72"/><circle cx="737.0" cy="466.9" r="2.72"/><circle cx="736.3" cy="468.0" r="2.72"/><circle cx="737.5" cy="468.6" r="2.72"/><circle cx="739.1" cy="468.6" r="2.72"/><circle cx="739.1" cy="469.9" r="2.72"/><circle cx="739.5" cy="472.1" r="2.72"/><circle cx="739.4" cy="471.9" r="2.72"/><circle cx="741.1" cy="472.4" r="2.72"/><circle cx="741.3" cy="473.1" r="2.72"/><circle cx="743.9" cy="473.4" r="2.72"/><circle cx="743.6" cy="473.7" r="2.72"/><circle cx="744.8" cy="471.1" r="2.72"/><circle cx="745.7" cy="471.2" r="2.72"/><circle cx="746.0" cy="471.5" r="2.72"/><circle cx="746.6" cy="470.4" r="2.72"/><circle cx="746.6" cy="468.9" r="2.72"/><circle cx="746.5" cy="467.0" r="2.72"/><circle cx="748.5" cy="467.5" r="2.72"/><circle cx="749.5" cy="466.8" r="2.72"/><circle cx="749.0" cy="467.4" r="2.72"/><circle cx="750.3" cy="467.4" r="2.72"/><circle cx="750.7" cy="469.4" r="2.72"/><circle cx="751.1" cy="468.4" r="2.72"/><circle cx="753.7" cy="469.3" r="2.72"/><circle cx="753.4" cy="467.2" r="2.72"/><circle cx="754.0" cy="467.1" r="2.72"/><circle cx="756.6" cy="468.9" r="2.72"/><circle cx="756.4" cy="468.5" r="2.72"/><circle cx="758.5" cy="467.7" r="2.72"/><circle cx="759.8" cy="469.9" r="2.72"/><circle cx="759.4" cy="469.6" r="2.72"/><circle cx="761.5" cy="468.7" r="2.72"/><circle cx="762.9" cy="468.4" r="2.72"/><circle cx="762.9" cy="468.6" r="2.72"/><circle cx="763.9" cy="469.6" r="2.72"/><circle cx="765.2" cy="468.9" r="2.72"/><circle cx="767.2" cy="467.7" r="2.72"/><circle cx="766.3" cy="468.3" r="2.72"/><circle cx="767.2" cy="468.8" r="2.72"/><circle cx="768.7" cy="467.2" r="2.72"/><circle cx="769.9" cy="467.6" r="2.72"/><circle cx="772.0" cy="466.4" r="2.72"/><circle cx="770.7" cy="465.0" r="2.72"/><circle cx="772.5" cy="463.8" r="2.72"/><circle cx="773.4" cy="464.5" r="2.72"/><circle cx="772.3" cy="462.3" r="2.72"/><circle cx="772.7" cy="462.2" r="2.72"/><circle cx="772.7" cy="461.3" r="2.72"/><circle cx="773.0" cy="460.8" r="2.72"/><circle cx="774.2" cy="459.0" r="2.72"/><circle cx="773.0" cy="456.6" r="2.72"/><circle cx="773.5" cy="457.9" r="2.72"/><circle cx="774.2" cy="456.9" r="2.72"/><circle cx="773.7" cy="454.4" r="2.72"/><circle cx="774.7" cy="455.5" r="2.72"/><circle cx="776.2" cy="454.5" r="2.72"/><circle cx="778.2" cy="455.9" r="2.72"/><circle cx="778.1" cy="456.0" r="2.72"/><circle cx="778.8" cy="456.9" r="2.72"/><circle cx="779.7" cy="456.7" r="2.72"/><circle cx="780.0" cy="455.9" r="2.72"/><circle cx="780.5" cy="454.2" r="2.72"/><circle cx="781.1" cy="454.6" r="2.72"/><circle cx="781.4" cy="453.1" r="2.72"/><circle cx="783.3" cy="454.5" r="2.72"/><circle cx="783.0" cy="455.2" r="2.72"/><circle cx="784.4" cy="457.5" r="2.72"/><circle cx="784.3" cy="458.4" r="2.72"/><circle cx="785.1" cy="458.9" r="2.72"/><circle cx="785.2" cy="459.4" r="2.72"/><circle cx="786.2" cy="460.3" r="2.72"/><circle cx="787.1" cy="461.1" r="2.72"/><circle cx="788.7" cy="462.8" r="2.72"/><circle cx="788.4" cy="461.3" r="2.72"/><circle cx="789.5" cy="460.9" r="2.72"/><circle cx="790.9" cy="461.8" r="2.72"/><circle cx="789.9" cy="460.0" r="2.72"/><circle cx="791.5" cy="460.7" r="2.72"/><circle cx="791.2" cy="459.4" r="2.72"/><circle cx="791.5" cy="457.8" r="2.72"/><circle cx="790.9" cy="456.9" r="2.72"/><circle cx="792.2" cy="456.9" r="2.72"/><circle cx="792.5" cy="455.5" r="2.72"/><circle cx="790.7" cy="453.2" r="2.72"/><circle cx="793.1" cy="453.1" r="2.72"/><circle cx="792.5" cy="451.6" r="2.72"/><circle cx="793.9" cy="451.2" r="2.72"/><circle cx="794.8" cy="449.4" r="2.72"/><circle cx="795.4" cy="448.6" r="2.72"/><circle cx="794.0" cy="448.8" r="2.72"/><circle cx="795.8" cy="447.6" r="2.72"/><circle cx="796.1" cy="449.1" r="2.72"/><circle cx="796.7" cy="447.7" r="2.72"/><circle cx="797.8" cy="446.5" r="2.72"/><circle cx="797.5" cy="445.8" r="2.72"/><circle cx="800.0" cy="446.4" r="2.72"/><circle cx="798.8" cy="446.3" r="2.72"/><circle cx="800.0" cy="446.8" r="2.72"/><circle cx="800.5" cy="448.4" r="2.72"/><circle cx="799.6" cy="448.5" r="2.72"/><circle cx="801.6" cy="449.5" r="2.72"/><circle cx="800.6" cy="451.8" r="2.72"/><circle cx="801.6" cy="453.1" r="2.72"/><circle cx="802.7" cy="452.2" r="2.72"/><circle cx="803.5" cy="453.6" r="2.72"/><circle cx="804.3" cy="455.6" r="2.72"/><circle cx="804.6" cy="454.9" r="2.72"/><circle cx="803.3" cy="457.9" r="2.72"/><circle cx="803.9" cy="457.7" r="2.72"/><circle cx="803.9" cy="458.6" r="2.72"/><circle cx="804.9" cy="461.1" r="2.72"/><circle cx="804.0" cy="458.9" r="2.72"/><circle cx="804.3" cy="457.5" r="2.72"/><circle cx="803.3" cy="458.3" r="2.72"/><circle cx="804.1" cy="457.4" r="2.72"/><circle cx="803.5" cy="459.0" r="2.72"/><circle cx="804.5" cy="459.7" r="2.72"/><circle cx="804.6" cy="460.7" r="2.72"/><circle cx="804.4" cy="463.6" r="2.72"/><circle cx="804.2" cy="462.9" r="2.72"/><circle cx="806.0" cy="464.4" r="2.72"/><circle cx="805.0" cy="464.0" r="2.72"/><circle cx="806.0" cy="447.2" r="2.72"/><circle cx="806.8" cy="446.9" r="2.72"/><circle cx="808.8" cy="447.1" r="2.72"/><circle cx="809.8" cy="446.1" r="2.72"/><circle cx="809.7" cy="444.5" r="2.72"/><circle cx="810.5" cy="444.0" r="2.72"/><circle cx="809.7" cy="443.3" r="2.72"/><circle cx="811.2" cy="442.9" r="2.72"/><circle cx="811.2" cy="441.2" r="2.72"/><circle cx="814.2" cy="441.7" r="2.72"/><circle cx="813.6" cy="440.9" r="2.72"/><circle cx="815.2" cy="442.6" r="2.72"/><circle cx="815.2" cy="441.0" r="2.72"/><circle cx="816.5" cy="441.0" r="2.72"/><circle cx="817.2" cy="438.9" r="2.72"/><circle cx="816.8" cy="439.1" r="2.72"/><circle cx="817.0" cy="438.5" r="2.72"/><circle cx="817.4" cy="436.0" r="2.72"/><circle cx="818.9" cy="436.8" r="2.72"/><circle cx="820.1" cy="435.9" r="2.72"/><circle cx="821.2" cy="435.3" r="2.72"/><circle cx="820.2" cy="435.1" r="2.72"/><circle cx="821.2" cy="433.2" r="2.72"/><circle cx="822.0" cy="432.5" r="2.72"/><circle cx="824.9" cy="432.7" r="2.72"/><circle cx="823.5" cy="431.1" r="2.72"/><circle cx="825.8" cy="431.3" r="2.72"/><circle cx="826.4" cy="428.8" r="2.72"/><circle cx="825.1" cy="428.5" r="2.72"/><circle cx="825.9" cy="427.5" r="2.72"/><circle cx="826.7" cy="428.3" r="2.72"/><circle cx="827.4" cy="426.7" r="2.72"/><circle cx="829.1" cy="426.7" r="2.72"/><circle cx="828.9" cy="426.4" r="2.72"/><circle cx="830.6" cy="425.2" r="2.72"/><circle cx="831.3" cy="423.5" r="2.72"/><circle cx="832.3" cy="423.3" r="2.72"/><circle cx="832.8" cy="422.6" r="2.72"/><circle cx="834.9" cy="423.2" r="2.72"/><circle cx="833.8" cy="422.4" r="2.72"/><circle cx="835.1" cy="420.5" r="2.72"/><circle cx="833.7" cy="420.8" r="2.72"/><circle cx="833.5" cy="419.6" r="2.72"/><circle cx="834.7" cy="416.9" r="2.72"/><circle cx="833.3" cy="416.4" r="2.72"/><circle cx="834.6" cy="416.7" r="2.72"/><circle cx="834.9" cy="416.1" r="2.72"/><circle cx="834.3" cy="414.1" r="2.72"/><circle cx="836.7" cy="414.3" r="2.72"/><circle cx="835.7" cy="414.2" r="2.72"/><circle cx="837.9" cy="413.3" r="2.72"/><circle cx="837.7" cy="412.3" r="2.72"/><circle cx="840.2" cy="412.3" r="2.72"/><circle cx="840.3" cy="411.9" r="2.72"/><circle cx="842.2" cy="411.8" r="2.72"/><circle cx="842.2" cy="412.7" r="2.72"/><circle cx="841.7" cy="412.4" r="2.72"/><circle cx="843.2" cy="412.1" r="2.72"/><circle cx="843.4" cy="411.1" r="2.72"/><circle cx="842.5" cy="410.3" r="2.72"/><circle cx="841.6" cy="410.3" r="2.72"/><circle cx="841.8" cy="410.0" r="2.72"/><circle cx="844.4" cy="411.8" r="2.72"/><circle cx="843.9" cy="411.0" r="2.72"/><circle cx="845.5" cy="411.3" r="2.72"/><circle cx="845.6" cy="412.0" r="2.72"/><circle cx="844.3" cy="413.2" r="2.72"/><circle cx="842.3" cy="413.2" r="2.72"/><circle cx="841.8" cy="414.6" r="2.72"/><circle cx="843.0" cy="415.0" r="2.72"/><circle cx="845.5" cy="428.2" r="2.72"/><circle cx="846.6" cy="426.5" r="2.72"/><circle cx="847.2" cy="427.7" r="2.72"/><circle cx="847.0" cy="429.8" r="2.72"/><circle cx="848.4" cy="431.4" r="2.72"/><circle cx="847.9" cy="430.9" r="2.72"/><circle cx="848.3" cy="431.8" r="2.72"/><circle cx="849.6" cy="432.9" r="2.72"/><circle cx="850.2" cy="433.2" r="2.72"/><circle cx="851.2" cy="436.1" r="2.72"/><circle cx="850.6" cy="435.9" r="2.72"/><circle cx="851.2" cy="434.9" r="2.72"/><circle cx="852.9" cy="435.2" r="2.72"/><circle cx="854.6" cy="435.2" r="2.72"/><circle cx="854.8" cy="435.3" r="2.72"/><circle cx="853.7" cy="432.2" r="2.72"/><circle cx="854.0" cy="431.9" r="2.72"/><circle cx="856.3" cy="431.3" r="2.72"/><circle cx="856.1" cy="430.9" r="2.72"/><circle cx="856.4" cy="428.3" r="2.72"/><circle cx="857.8" cy="427.4" r="2.72"/><circle cx="857.6" cy="427.0" r="2.72"/><circle cx="858.2" cy="427.0" r="2.72"/><circle cx="859.8" cy="427.4" r="2.72"/><circle cx="860.7" cy="429.8" r="2.72"/><circle cx="860.9" cy="428.8" r="2.72"/><circle cx="862.4" cy="430.5" r="2.72"/><circle cx="863.7" cy="429.7" r="2.72"/><circle cx="863.8" cy="429.5" r="2.72"/><circle cx="864.8" cy="429.0" r="2.72"/><circle cx="864.5" cy="428.7" r="2.72"/><circle cx="865.5" cy="428.5" r="2.72"/><circle cx="864.2" cy="429.3" r="2.72"/><circle cx="864.9" cy="430.7" r="2.72"/><circle cx="865.6" cy="431.6" r="2.72"/><circle cx="864.6" cy="432.0" r="2.72"/><circle cx="866.0" cy="434.5" r="2.72"/><circle cx="867.0" cy="435.8" r="2.72"/><circle cx="865.5" cy="435.9" r="2.72"/><circle cx="866.4" cy="438.0" r="2.72"/><circle cx="866.7" cy="439.3" r="2.72"/><circle cx="867.4" cy="438.9" r="2.72"/><circle cx="868.0" cy="439.7" r="2.72"/><circle cx="869.7" cy="439.8" r="2.72"/><circle cx="868.8" cy="440.9" r="2.72"/><circle cx="869.9" cy="441.8" r="2.72"/><circle cx="869.2" cy="442.8" r="2.72"/><circle cx="870.9" cy="443.2" r="2.72"/><circle cx="871.1" cy="441.1" r="2.72"/><circle cx="871.7" cy="441.9" r="2.72"/><circle cx="872.0" cy="440.0" r="2.72"/><circle cx="874.4" cy="441.6" r="2.72"/><circle cx="873.3" cy="441.5" r="2.72"/><circle cx="875.9" cy="443.6" r="2.72"/><circle cx="874.7" cy="444.1" r="2.72"/><circle cx="875.9" cy="444.4" r="2.72"/><circle cx="877.6" cy="444.3" r="2.72"/><circle cx="879.0" cy="445.6" r="2.72"/><circle cx="878.1" cy="447.2" r="2.72"/><circle cx="879.1" cy="445.9" r="2.72"/><circle cx="881.0" cy="447.4" r="2.72"/><circle cx="882.4" cy="448.6" r="2.72"/><circle cx="881.5" cy="447.4" r="2.72"/><circle cx="883.2" cy="448.9" r="2.72"/><circle cx="883.3" cy="450.5" r="2.72"/><circle cx="884.0" cy="450.5" r="2.72"/><circle cx="884.4" cy="451.7" r="2.72"/><circle cx="887.1" cy="451.3" r="2.72"/><circle cx="886.0" cy="451.0" r="2.72"/><circle cx="886.6" cy="464.5" r="2.72"/><circle cx="888.4" cy="465.3" r="2.72"/><circle cx="887.0" cy="465.3" r="2.72"/><circle cx="888.1" cy="466.1" r="2.72"/><circle cx="890.9" cy="467.2" r="2.72"/><circle cx="890.3" cy="466.7" r="2.72"/><circle cx="891.5" cy="466.0" r="2.72"/><circle cx="893.6" cy="467.6" r="2.72"/><circle cx="893.6" cy="467.1" r="2.72"/><circle cx="895.5" cy="468.2" r="2.72"/><circle cx="895.9" cy="467.0" r="2.72"/><circle cx="896.0" cy="467.2" r="2.72"/><circle cx="898.8" cy="467.9" r="2.72"/><circle cx="899.4" cy="467.4" r="2.72"/><circle cx="899.8" cy="466.6" r="2.72"/><circle cx="902.1" cy="467.3" r="2.72"/><circle cx="900.9" cy="467.0" r="2.72"/><circle cx="902.8" cy="466.1" r="2.72"/><circle cx="903.9" cy="465.5" r="2.72"/><circle cx="904.9" cy="466.1" r="2.72"/><circle cx="904.5" cy="465.6" r="2.72"/><circle cx="905.2" cy="465.7" r="2.72"/><circle cx="905.9" cy="466.9" r="2.72"/><circle cx="906.6" cy="466.6" r="2.72"/><circle cx="908.8" cy="467.8" r="2.72"/><circle cx="909.3" cy="467.8" r="2.72"/><circle cx="909.7" cy="467.3" r="2.72"/><circle cx="910.4" cy="466.8" r="2.72"/><circle cx="911.0" cy="468.2" r="2.72"/><circle cx="914.1" cy="467.3" r="2.72"/><circle cx="913.7" cy="467.1" r="2.72"/><circle cx="914.3" cy="468.4" r="2.72"/><circle cx="917.2" cy="467.0" r="2.72"/><circle cx="916.4" cy="468.6" r="2.72"/><circle cx="917.0" cy="468.0" r="2.72"/></g>
<polyline points="120.4,127.4 120.5,127.9 120.6,128.5 120.7,129.2 120.8,129.9 121.0,130.7 121.1,131.5 121.3,132.4 121.4,133.3 121.6,134.3 121.8,135.3 122.0,136.3 122.2,137.4 122.4,138.5 122.6,139.6 122.8,140.8 123.0,141.9 123.2,143.1 123.4,144.2 123.6,145.4 123.8,146.6 124.0,147.7 124.2,148.9 124.4,150.0 124.6,151.2 124.8,152.3 125.0,153.4 125.2,154.4 125.4,155.5 125.6,156.5 125.7,157.4 125.9,158.3 126.1,159.2 126.2,160.0 126.4,161.3 126.7,162.6 126.9,163.9 127.1,165.0 127.3,166.2 127.6,167.3 127.8,168.3 127.9,169.4 128.1,170.4 128.3,171.3 128.5,172.3 128.7,173.2 128.9,174.1 129.1,175.0 129.2,175.9 129.4,176.8 129.6,177.7 129.8,178.6 130.0,179.5 130.2,180.6 130.5,181.8 130.7,182.9 131.0,183.9 131.2,185.0 131.5,186.0 131.7,187.1 132.0,188.1 132.2,189.0 132.5,190.0 132.7,190.9 133.0,191.9 133.2,192.8 133.5,193.6 133.7,194.5 134.0,195.6 134.4,196.6 134.7,197.6 135.1,198.5 135.4,199.3 135.8,200.2 136.1,201.0 136.5,201.9 136.8,202.9 137.2,203.9 137.5,205.0 137.8,205.9 138.0,206.8 138.3,207.7 138.5,208.7 138.8,209.7 139.0,210.7 139.3,211.8 139.5,212.8 139.8,213.9 140.0,214.9 140.3,216.0 140.5,217.0 140.7,218.0 141.0,219.0 141.2,220.0 141.5,221.1 141.7,222.1 142.0,223.2 142.2,224.2 142.4,225.2 142.7,226.2 142.9,227.2 143.1,228.2 143.4,229.2 143.6,230.2 143.8,231.3 144.0,232.4 144.2,233.5 144.4,234.5 144.5,235.4 144.7,236.5 144.8,237.5 144.9,238.6 145.1,239.7 145.2,240.8 145.3,241.8 145.4,242.9 145.6,244.0 145.7,245.1 145.9,246.1 146.0,247.1 146.2,248.1 146.3,249.1 146.5,250.0 146.8,251.2 147.0,252.3 147.3,253.4 147.6,254.5 147.9,255.5 148.2,256.5 148.5,257.5 148.8,258.5 149.1,259.4 149.4,260.3 149.7,261.2 150.0,262.0 150.4,263.2 150.8,264.3 151.1,265.4 151.5,266.4 151.8,267.3 152.2,268.2 152.6,269.1 153.0,270.0 153.5,271.0 154.1,271.9 154.7,272.7 155.3,273.5 155.9,274.3 156.5,275.2 157.0,276.0 157.6,277.0 158.1,277.9 158.6,278.9 159.0,279.9 159.5,280.9 160.0,282.0 160.4,282.9 160.8,284.0 161.1,285.0 161.5,286.1 161.9,287.2 162.2,288.2 162.6,289.2 163.0,290.0 163.6,291.1 164.2,292.0 164.7,292.8 165.3,293.5 166.0,294.0 166.9,294.5 167.9,294.8 169.0,294.9 170.0,295.0 171.0,295.0 172.1,294.9 173.1,294.9 174.0,295.0 175.1,295.4 176.0,296.0 177.0,297.0 177.6,297.8 178.2,298.6 178.8,299.6 179.4,300.8 180.0,302.0 180.4,302.9 180.7,303.8 181.1,304.8 181.4,305.8 181.8,306.9 182.2,307.9 182.6,309.0 183.0,310.0 183.4,311.0 183.9,312.1 184.4,313.2 184.9,314.2 185.4,315.3 185.9,316.3 186.4,317.2 187.0,318.0 187.8,318.9 188.6,319.7 189.4,320.3 190.2,320.9 191.1,321.4 192.0,322.0 192.9,322.6 193.9,323.1 194.9,323.6 196.0,324.1 197.0,324.6 198.0,325.0 199.0,325.4 200.0,325.7 201.0,326.0 202.0,326.3 203.0,326.6 204.0,327.0 205.0,327.4 206.0,327.9 207.1,328.4 208.1,329.0 209.1,329.5 210.0,330.0 211.1,330.6 212.2,331.1 213.2,331.7 214.1,332.3 215.0,333.0 215.7,333.9 216.3,334.9 216.9,335.9 217.4,337.0 218.0,338.0 218.6,339.0 219.2,339.9 219.7,340.9 220.3,341.9 221.0,343.0 221.4,343.8 221.9,344.6 222.4,345.5 222.9,346.4 223.4,347.4 223.9,348.3 224.4,349.2 225.0,350.0 225.7,350.9 226.3,351.9 227.0,352.8 227.7,353.7 228.5,354.5 229.2,355.3 230.0,356.0 231.0,356.7 232.0,357.3 233.1,357.8 234.1,358.2 235.1,358.6 236.0,359.0 237.1,359.5 238.1,360.0 239.0,360.5 240.0,361.0 240.9,361.5 241.9,361.9 243.0,362.5 244.0,363.1 245.0,364.0 245.6,364.7 246.3,365.4 246.9,366.2 247.6,367.1 248.2,368.1 248.8,369.0 249.4,370.0 250.0,371.0 250.5,371.9 251.0,372.8 251.4,373.8 251.8,374.8 252.3,375.8 252.7,376.9 253.1,377.9 253.6,378.9 254.0,380.0 254.4,381.0 254.8,381.9 255.2,382.9 255.6,383.9 256.0,384.9 256.4,386.0 256.8,387.0 257.2,388.0 257.6,389.0 258.0,390.0 258.4,391.0 258.8,392.0 259.2,393.1 259.6,394.1 260.1,395.1 260.5,396.1 260.9,397.1 261.3,398.1 261.6,399.1 262.0,400.0 262.4,401.1 262.8,402.2 263.2,403.3 263.6,404.3 263.9,405.3 264.3,406.3 264.6,407.2 265.0,408.0 265.6,409.2 266.2,410.2 266.8,411.1 267.4,412.0 268.0,413.0 268.6,414.1 269.2,415.3 269.8,416.5 270.4,417.4 271.0,418.0 272.0,417.6 273.0,416.5 274.0,416.0 274.6,416.3 275.2,416.9 275.8,417.7 276.4,418.7 277.0,420.0 277.3,420.8 277.6,421.6 277.9,422.6 278.2,423.7 278.5,424.8 278.8,425.9 279.1,427.0 279.4,428.0 279.7,429.1 280.0,430.0 280.4,431.1 280.8,432.2 281.1,433.2 281.5,434.2 281.9,435.2 282.2,436.1 282.6,437.1 283.0,438.0 283.4,439.1 283.9,440.2 284.3,441.3 284.7,442.3 285.1,443.3 285.6,444.2 286.0,445.0 286.8,446.1 287.5,447.1 288.2,447.7 289.0,448.0 290.0,447.7 291.0,446.9 292.0,446.0 292.8,445.2 293.5,444.1 294.2,443.3 295.0,443.0 295.6,443.3 296.2,443.9 296.8,444.8 297.4,445.8 298.0,447.0 298.4,447.8 298.8,448.7 299.1,449.7 299.5,450.8 299.9,451.8 300.2,452.9 300.6,454.0 301.0,455.0 301.4,456.0 301.7,457.1 302.1,458.2 302.4,459.2 302.8,460.3 303.2,461.3 303.6,462.2 304.0,463.0 304.7,464.1 305.5,465.0 306.3,465.7 307.1,466.4 308.0,467.0 309.0,467.5 310.0,467.8 311.0,468.1 312.0,468.4 313.0,469.0 313.7,469.7 314.4,470.5 315.1,471.4 315.7,472.4 316.3,473.2 317.0,474.0 317.8,474.8 318.6,475.6 319.5,476.3 320.3,476.8 321.0,477.0 322.0,476.9 323.0,476.2 324.0,475.0 324.4,474.3 324.9,473.5 325.4,472.6 325.9,471.6 326.4,470.6 326.9,469.6 327.4,468.7 328.0,468.0 329.0,467.1 330.0,466.3 331.1,465.6 332.1,465.2 333.0,465.0 334.1,465.2 335.0,465.9 336.0,467.0 336.6,467.7 337.2,468.5 337.9,469.4 338.6,470.3 339.3,471.2 340.0,472.0 340.8,472.8 341.6,473.5 342.5,474.2 343.4,474.9 344.2,475.5 345.0,476.0 346.1,476.5 347.1,476.9 348.0,477.0 349.0,477.0 350.0,476.8 350.9,476.3 351.9,475.7 353.0,475.0 353.8,474.4 354.6,473.8 355.4,473.1 356.3,472.3 357.2,471.6 358.0,471.0 359.0,470.3 360.0,469.7 361.0,469.2 362.0,468.6 363.0,468.0 364.0,467.4 365.0,466.7 366.1,466.1 367.1,465.5 368.0,465.0 369.1,464.5 370.1,464.2 371.0,464.0 372.0,464.0 373.0,464.3 374.0,464.8 375.0,465.4 376.0,466.0 376.8,466.6 377.6,467.2 378.4,467.8 379.2,468.4 380.0,469.0 381.0,469.6 382.0,470.2 383.0,470.7 384.0,471.0 385.0,471.2 386.0,471.2 387.0,471.2 388.0,471.0 389.0,470.6 389.9,470.1 390.9,469.5 392.0,469.0 393.0,468.7 394.1,468.5 395.3,468.3 396.5,468.0 397.6,467.6 398.5,467.1 399.4,466.4 400.2,465.7 401.1,465.0 401.9,464.4 402.7,464.0 403.8,463.8 404.9,463.9 406.0,464.2 407.0,464.8 407.7,465.3 408.3,466.0 409.0,466.8 409.6,467.7 410.3,468.6 411.0,469.7 411.5,470.5 411.9,471.3 412.4,472.1 412.9,473.0 413.4,473.9 413.9,474.9 414.4,475.9 415.0,476.9 415.5,478.0 415.9,478.9 416.4,479.8 416.8,480.8 417.3,481.9 417.8,483.0 418.3,484.1 418.7,485.1 419.2,486.2 419.7,487.1 420.1,488.1 420.6,488.9 421.0,489.6 421.8,490.8 422.6,491.8 423.3,492.6 424.0,493.2 424.7,493.6 425.4,493.8 426.3,493.8 427.1,493.4 428.0,492.8 428.8,491.9 429.7,491.0 430.2,490.3 430.8,489.4 431.4,488.3 431.9,487.3 432.5,486.2 433.0,485.3 433.5,484.5 434.0,484.0 435.3,483.5 436.7,485.0 437.1,485.6 437.6,486.5 438.0,487.4 438.5,488.5 439.0,489.6 439.5,490.7 440.0,491.8 440.5,492.8 441.0,493.8 441.5,494.9 442.0,496.0 442.5,497.2 443.0,498.3 443.5,499.3 444.0,500.2 444.5,500.7 445.0,501.0 445.6,500.8 446.3,500.2 446.9,499.4 447.6,498.3 448.2,497.1 448.9,496.0 449.5,495.0 450.1,494.1 450.7,493.0 451.3,491.9 451.9,490.9 452.5,490.0 453.1,489.4 453.7,489.0 454.5,489.0 455.4,489.5 456.2,490.3 457.1,491.3 458.0,492.4 458.6,493.2 459.3,494.1 460.0,495.2 460.7,496.3 461.4,497.4 462.1,498.3 462.8,499.1 463.5,499.5 464.4,499.6 465.3,499.2 466.1,498.5 467.0,497.8 468.0,497.1 469.0,496.7 470.0,496.6 471.0,496.6 472.1,496.7 473.2,496.9 474.3,496.9 475.3,496.9 476.2,496.7 477.1,496.3 477.9,495.7 478.5,495.1 479.2,494.3 479.8,493.4 480.5,492.4 481.0,491.6 481.4,490.8 481.9,489.8 482.3,488.8 482.7,487.8 483.2,486.8 483.7,485.8 484.2,484.9 484.7,484.0 485.3,483.0 486.0,482.1 486.7,481.1 487.4,480.2 488.1,479.3 488.8,478.6 489.6,478.0 490.4,477.5 491.4,477.2 492.4,477.2 493.4,477.3 494.5,477.5 495.5,477.7 496.6,478.0 497.5,478.2 498.7,478.6 499.8,479.1 500.9,479.6 501.9,479.8 503.0,479.7 503.7,479.4 504.4,478.8 505.2,478.2 505.9,477.5 506.6,476.7 507.4,475.8 508.1,474.9 508.8,474.0 509.4,473.2 509.9,472.4 510.5,471.5 511.1,470.6 511.7,469.7 512.2,468.8 512.8,467.9 513.4,467.0 513.9,466.2 514.5,465.5 515.3,464.6 516.1,463.9 516.9,463.2 517.6,462.5 518.4,461.9 519.2,461.2 520.0,460.5 520.7,459.8 521.4,459.0 522.2,458.2 522.9,457.4 523.6,456.6 524.3,455.8 525.0,455.0 525.7,454.3 526.6,453.4 527.4,452.4 528.3,451.5 529.1,450.7 529.8,450.0 530.5,449.5 531.5,448.9 532.3,448.8 533.5,449.0 534.3,449.3 535.3,449.7 536.4,450.2 537.5,450.7 538.7,451.0 539.8,451.0 540.7,450.8 541.6,450.6 542.5,450.2 543.4,449.8 544.4,449.3 545.3,448.7 546.2,448.1 547.0,447.4 547.7,446.8 548.4,446.0 549.0,445.3 549.6,444.4 550.2,443.6 550.8,442.7 551.4,441.9 552.0,441.1 552.6,440.3 553.3,439.4 554.0,438.6 554.8,437.7 555.5,436.8 556.2,436.0 556.9,435.2 557.6,434.6 558.2,434.0 559.4,433.2 560.4,432.7 561.5,432.5 562.5,432.5 563.3,432.7 564.1,433.2 564.9,433.8 565.8,434.5 566.7,435.4 567.4,436.0 568.1,436.7 568.8,437.5 569.5,438.3 570.3,439.1 571.0,440.0 571.7,440.9 572.4,441.7 573.0,442.6 573.6,443.4 574.1,444.3 574.6,445.2 575.1,446.2 575.7,447.1 576.2,447.9 576.7,448.8 577.3,449.8 577.9,450.9 578.6,452.0 579.2,453.1 579.8,454.0 580.4,454.7 581.0,455.2 582.0,455.3 583.0,454.9 583.9,454.0 585.0,453.0 585.7,452.3 586.4,451.3 587.1,450.2 587.9,449.1 588.6,448.1 589.3,447.4 590.0,447.0 590.9,447.1 591.7,447.7 592.6,448.6 593.4,449.8 594.2,451.2 594.6,452.0 595.1,452.9 595.5,453.9 595.9,454.9 596.4,456.0 596.8,457.1 597.2,458.2 597.6,459.2 598.0,460.2 598.4,461.0 598.9,462.3 599.4,463.6 599.8,464.8 600.2,465.8 600.7,466.5 601.2,466.7 601.7,466.5 602.3,465.8 602.9,464.9 603.6,463.8 604.2,462.7 604.9,461.8 605.5,461.0 606.3,460.1 607.2,459.3 608.0,458.7 608.9,458.3 609.7,458.2 610.4,458.4 611.1,458.9 611.9,459.6 612.6,460.4 613.3,461.4 614.0,462.5 614.4,463.3 614.8,464.2 615.3,465.3 615.7,466.4 616.1,467.5 616.5,468.7 616.9,469.8 617.4,470.8 617.8,471.7 618.2,472.4 619.1,473.4 619.9,474.1 620.8,474.6 621.6,474.9 622.5,475.2 623.5,475.5 624.5,475.6 625.5,475.7 626.7,476.0 627.6,476.5 628.5,477.2 629.5,478.0 630.5,478.7 631.5,479.3 632.4,479.5 633.3,479.4 634.2,479.0 635.0,478.4 635.8,477.6 636.7,476.7 637.3,476.1 637.9,475.3 638.5,474.4 639.2,473.5 639.8,472.6 640.5,471.7 641.1,470.9 641.7,470.2 642.3,469.6 643.5,468.7 644.5,468.2 645.6,468.0 646.6,468.2 647.4,468.7 648.2,469.5 649.0,470.5 649.8,471.5 650.7,472.4 651.5,473.1 652.5,473.8 653.4,474.5 654.4,475.1 655.3,475.7 656.3,476.0 657.4,476.2 658.6,476.2 659.7,476.0 660.9,475.6 662.0,475.2 662.8,474.8 663.6,474.2 664.4,473.6 665.3,472.9 666.1,472.2 666.9,471.6 667.7,471.0 668.6,470.5 669.6,470.0 670.5,469.5 671.4,469.1 672.4,468.7 673.3,468.2 674.2,467.7 675.2,467.3 676.1,466.9 677.1,466.4 678.0,465.9 679.0,465.3 679.8,464.7 680.7,463.9 681.5,463.1 682.4,462.3 683.2,461.5 684.0,460.9 684.7,460.4 685.8,460.0 686.9,460.0 687.9,460.1 689.0,460.4 690.1,460.7 691.2,461.2 692.4,461.8 693.5,462.2 694.6,462.5 695.7,462.6 696.8,462.5 697.8,462.2 698.8,461.8 699.6,461.3 700.5,460.6 701.3,459.9 702.2,459.0 703.0,458.2 703.7,457.5 704.4,456.7 705.1,455.8 705.9,455.0 706.6,454.1 707.3,453.3 708.0,452.4 708.7,451.6 709.4,450.7 710.1,449.8 710.8,449.0 711.6,448.3 712.4,447.6 713.3,447.0 714.2,446.5 715.1,446.0 716.1,445.7 717.0,445.5 717.9,445.5 718.9,445.7 719.8,446.0 720.8,446.4 721.7,446.9 722.7,447.6 723.4,448.2 724.1,448.8 724.8,449.5 725.6,450.3 726.3,451.1 727.0,452.0 727.7,453.0 728.4,454.0 728.9,454.8 729.4,455.7 730.0,456.6 730.5,457.6 731.0,458.6 731.5,459.6 732.1,460.6 732.6,461.6 733.1,462.5 733.5,463.3 734.0,464.0 734.8,465.2 735.5,466.3 736.1,467.2 736.8,467.9 737.5,468.2 738.3,468.2 738.9,467.9 739.5,467.4 740.2,466.6 740.9,465.8 741.5,464.8 742.2,463.8 742.9,462.8 743.5,461.9 744.0,461.0 744.6,459.9 745.1,458.6 745.6,457.3 746.0,456.0 746.5,455.0 746.9,454.3 747.5,454.0 748.1,454.2 748.7,454.7 749.3,455.6 750.0,456.6 750.6,457.7 751.3,458.9 751.9,460.0 752.5,461.0 753.1,462.0 753.6,463.2 754.1,464.5 754.6,465.8 755.1,466.9 755.6,467.9 756.1,468.6 756.7,468.9 757.4,468.8 758.1,468.3 758.8,467.6 759.5,466.6 760.3,465.6 761.0,464.5 761.7,463.4 762.4,462.5 763.0,461.5 763.5,460.4 764.1,459.3 764.6,458.1 765.1,457.1 765.6,456.2 766.1,455.6 766.7,455.4 767.3,455.6 767.9,456.1 768.5,456.8 769.2,457.7 769.8,458.7 770.5,459.7 771.1,460.7 771.7,461.7 772.3,462.5 773.0,463.5 773.6,464.5 774.2,465.5 774.8,466.5 775.4,467.3 776.0,467.9 776.6,468.2 777.4,468.0 778.0,467.2 778.8,466.1 779.6,465.0 780.7,464.4 781.6,464.3 782.6,464.4 783.8,464.6 784.9,464.9 786.1,465.1 787.3,465.2 788.3,465.2 789.2,465.0 790.0,464.5 790.7,463.8 791.3,462.9 791.8,461.9 792.3,460.9 792.8,459.8 793.4,458.7 793.9,457.8 794.3,456.9 794.8,455.9 795.3,454.8 795.8,453.8 796.3,452.8 796.7,451.8 797.2,451.0 797.7,450.2 798.4,449.2 799.1,448.2 799.8,447.4 800.5,446.7 801.2,446.2 802.0,446.0 802.8,446.1 803.7,446.5 804.6,447.1 805.6,447.8 806.6,448.4 807.6,448.8 808.5,449.0 809.5,449.3 810.5,449.5 811.6,449.6 812.6,449.7 813.7,449.6 814.7,449.5 815.7,449.2 816.7,448.9 817.7,448.4 818.7,447.9 819.7,447.3 820.7,446.7 821.7,446.0 822.5,445.5 823.3,444.9 824.1,444.2 824.8,443.6 825.6,442.9 826.4,442.2 827.2,441.6 828.0,440.9 828.8,440.3 829.7,439.6 830.6,439.0 831.6,438.4 832.5,437.8 833.4,437.2 834.3,436.6 835.2,436.0 836.0,435.4 836.9,434.7 837.8,434.0 838.6,433.2 839.4,432.5 840.1,431.9 840.9,431.4 841.6,431.1 842.8,430.9 843.9,430.9 845.0,431.3 846.0,432.0 846.7,432.7 847.4,433.7 848.0,434.8 848.7,435.9 849.3,436.8 850.0,437.5 851.0,438.1 852.0,438.3 853.0,438.3 854.2,438.2 855.1,438.0 856.0,437.7 856.9,437.4 857.9,436.9 858.8,436.5 859.8,436.0 860.8,435.5 861.7,434.9 862.7,434.3 863.7,433.7 864.6,433.1 865.5,432.5 866.4,431.9 867.3,431.2 868.1,430.6 868.9,430.1 869.7,429.7 870.7,429.4 871.8,429.2 872.8,429.3 874.0,429.7 874.7,430.1 875.5,430.6 876.4,431.2 877.2,432.0 878.0,432.8 878.9,433.7 879.7,434.7 880.2,435.4 880.7,436.2 881.3,437.0 881.8,437.9 882.3,438.9 882.8,439.8 883.4,440.8 883.9,441.8 884.4,442.7 884.8,443.7 885.3,444.6 885.8,445.6 886.2,446.6 886.7,447.7 887.1,448.8 887.5,449.8 887.9,450.8 888.4,451.8 888.8,452.8 889.2,453.7 889.6,454.5 890.2,455.6 890.8,456.7 891.4,457.7 892.0,458.6 892.6,459.3 893.2,459.9 893.8,460.2 894.6,460.2 895.5,459.8 896.3,459.0 897.2,458.1 898.0,457.3 898.7,456.5 899.5,455.6 900.2,454.6 901.0,453.7 901.7,452.9 902.3,452.4 903.7,451.7 905.2,453.0 905.5,453.6 905.9,454.4 906.3,455.3 906.7,456.3 907.1,457.4 907.5,458.5 908.0,459.7 908.4,460.8 908.8,461.8 909.2,462.8 909.6,463.7 910.0,464.4 910.9,465.7 911.7,466.6 912.5,467.2 913.3,467.7 914.0,468.0 915.1,468.2 916.1,467.9 917.0,467.5 917.9,466.7 918.5,466.0" fill="none" stroke="#0072B2" stroke-width="2.08" stroke-linejoin="round" stroke-linecap="round"/>
<rect x="918.8" y="424.5" width="26" height="44.1" fill="#137ab5"/>
<g fill="#0072B2"><rect x="919.0" y="412.8" width="2.2" height="55.8" rx="0.8"/><rect x="922.0" y="412.0" width="2.4" height="56.6" rx="0.8"/><rect x="924.8" y="416.0" width="2.4" height="52.6" rx="0.8"/><rect x="927.8" y="421.6" width="2.2" height="47.0" rx="0.8"/><rect x="930.8" y="423.2" width="2.4" height="45.4" rx="0.8"/><rect x="933.8" y="421.8" width="2.2" height="46.8" rx="0.8"/><rect x="936.8" y="420.0" width="2.4" height="48.6" rx="0.8"/><rect x="939.8" y="420.8" width="2.2" height="47.8" rx="0.8"/><rect x="942.6" y="421.2" width="2.2" height="47.4" rx="0.8"/></g>
<g fill="#ff0000"><circle cx="919.6" cy="468.0" r="2.72"/><circle cx="920.5" cy="466.5" r="2.72"/><circle cx="922.5" cy="462.5" r="2.72"/><circle cx="924.0" cy="465.0" r="2.72"/><circle cx="925.0" cy="463.0" r="2.72"/><circle cx="927.0" cy="466.0" r="2.72"/><circle cx="928.5" cy="466.0" r="2.72"/><circle cx="930.0" cy="468.0" r="2.72"/><circle cx="931.5" cy="467.0" r="2.72"/><circle cx="933.0" cy="468.0" r="2.72"/></g>
<rect x="79.5" y="15.5" width="906.0" height="527.0" fill="none" stroke="#000" stroke-width="1.11"/>
<path d="M74.6 540.50H79.5M74.6 468.50H79.5M74.6 396.50H79.5M74.6 325.50H79.5M74.6 253.50H79.5M74.6 181.50H79.5M74.6 109.50H79.5M74.6 38.50H79.5M139.50 542.5V547.4M295.50 542.5V547.4M451.50 542.5V547.4M607.50 542.5V547.4M763.50 542.5V547.4M919.50 542.5V547.4" stroke="#000" stroke-width="1.11"/>
<g font-family="Liberation Sans, sans-serif" font-size="14.2" fill="#000">
<text x="69.3" y="544.70" text-anchor="end" textLength="7.63" lengthAdjust="spacingAndGlyphs">0</text>
<text x="69.3" y="472.70" text-anchor="end" textLength="25.29" lengthAdjust="spacingAndGlyphs">500</text>
<text x="69.3" y="400.70" text-anchor="end" textLength="34.12" lengthAdjust="spacingAndGlyphs">1000</text>
<text x="69.3" y="329.70" text-anchor="end" textLength="34.12" lengthAdjust="spacingAndGlyphs">1500</text>
<text x="69.3" y="257.70" text-anchor="end" textLength="34.12" lengthAdjust="spacingAndGlyphs">2000</text>
<text x="69.3" y="185.70" text-anchor="end" textLength="34.12" lengthAdjust="spacingAndGlyphs">2500</text>
<text x="69.3" y="113.70" text-anchor="end" textLength="34.12" lengthAdjust="spacingAndGlyphs">3000</text>
<text x="69.3" y="42.70" text-anchor="end" textLength="34.12" lengthAdjust="spacingAndGlyphs">3500</text>
<text x="138.60" y="562.2" text-anchor="middle" textLength="34.32" lengthAdjust="spacingAndGlyphs">2021</text>
<text x="295.20" y="562.2" text-anchor="middle" textLength="34.32" lengthAdjust="spacingAndGlyphs">2022</text>
<text x="451.20" y="562.2" text-anchor="middle" textLength="34.32" lengthAdjust="spacingAndGlyphs">2023</text>
<text x="607.20" y="562.2" text-anchor="middle" textLength="34.32" lengthAdjust="spacingAndGlyphs">2024</text>
<text x="763.20" y="562.2" text-anchor="middle" textLength="34.32" lengthAdjust="spacingAndGlyphs">2025</text>
<text x="919.20" y="562.2" text-anchor="middle" textLength="34.32" lengthAdjust="spacingAndGlyphs">2026</text>
<text x="532.5" y="582" text-anchor="middle" textLength="14.5" lengthAdjust="spacingAndGlyphs">ds</text>
<text transform="translate(25.0,278.8) rotate(-90)" text-anchor="middle">y</text>
</g>
</svg>
</body></html>
